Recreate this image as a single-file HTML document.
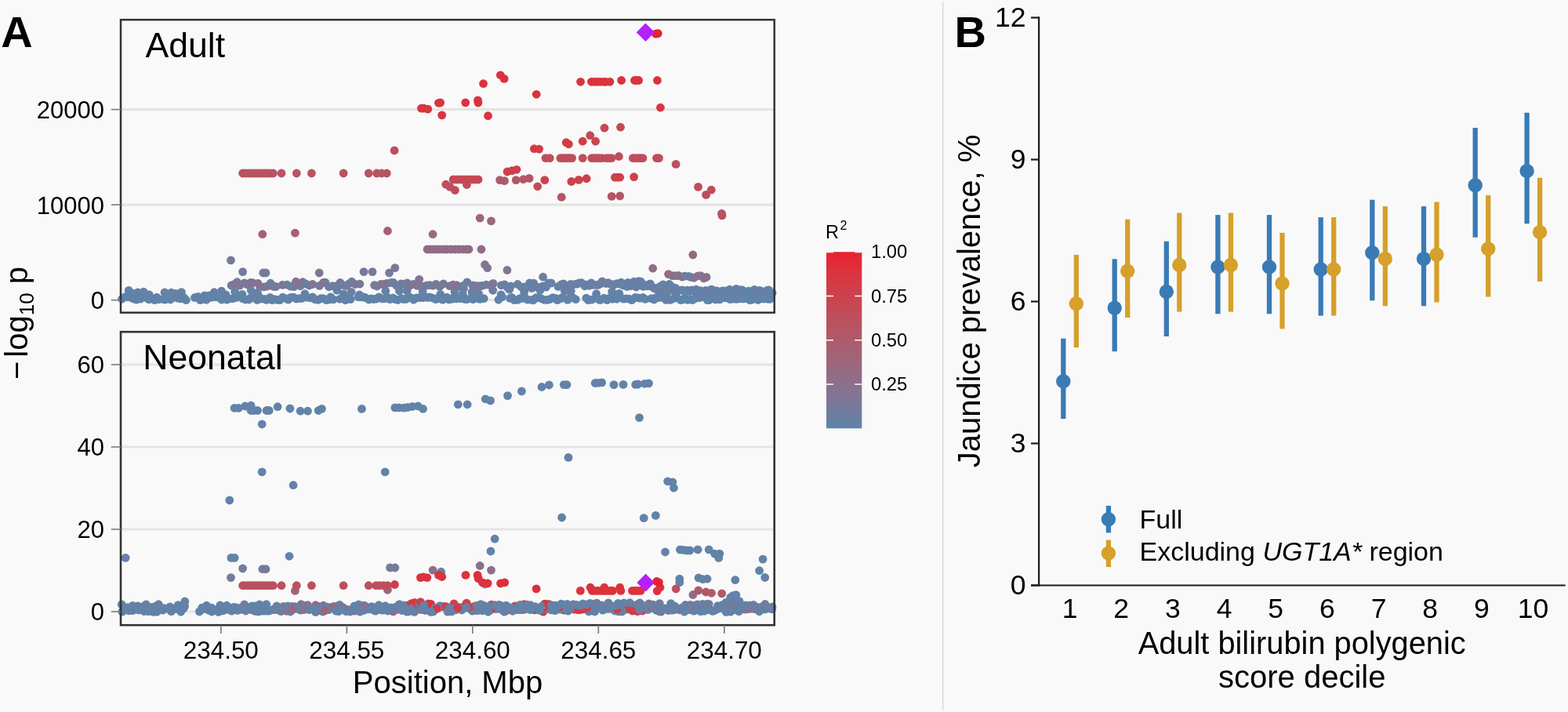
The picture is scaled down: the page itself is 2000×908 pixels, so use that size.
<!DOCTYPE html>
<html><head><meta charset="utf-8"><title>Figure</title>
<style>html,body{margin:0;padding:0;background:#f9f9f9;}svg{display:block;}</style>
</head><body>
<svg width="2000" height="908" viewBox="0 0 2000 908" font-family='"Liberation Sans", Arial, sans-serif'>
<rect x="0" y="0" width="2000" height="908" fill="#f9f9f9"/>
<line x1="154.0" y1="382.70" x2="987.7" y2="382.70" stroke="#e4e5e4" stroke-width="3.2"/>
<line x1="154.0" y1="261.15" x2="987.7" y2="261.15" stroke="#e4e5e4" stroke-width="3.2"/>
<line x1="154.0" y1="139.60" x2="987.7" y2="139.60" stroke="#e4e5e4" stroke-width="3.2"/>
<line x1="154.0" y1="780.00" x2="987.7" y2="780.00" stroke="#e4e5e4" stroke-width="3.2"/>
<line x1="154.0" y1="675.00" x2="987.7" y2="675.00" stroke="#e4e5e4" stroke-width="3.2"/>
<line x1="154.0" y1="570.00" x2="987.7" y2="570.00" stroke="#e4e5e4" stroke-width="3.2"/>
<line x1="154.0" y1="465.00" x2="987.7" y2="465.00" stroke="#e4e5e4" stroke-width="3.2"/>
<circle cx="888.3" cy="380.0" r="5.4" fill="#6084aa"/>
<circle cx="309.3" cy="380.8" r="5.4" fill="#6382a8"/>
<circle cx="798.6" cy="380.8" r="5.4" fill="#6283a9"/>
<circle cx="710.8" cy="382.7" r="5.4" fill="#6084aa"/>
<circle cx="717.3" cy="379.4" r="5.4" fill="#6482a8"/>
<circle cx="783.7" cy="378.7" r="5.4" fill="#6382a8"/>
<circle cx="292.2" cy="380.8" r="5.4" fill="#5f84aa"/>
<circle cx="261.0" cy="376.8" r="5.4" fill="#6083aa"/>
<circle cx="353.5" cy="382.4" r="5.4" fill="#6382a8"/>
<circle cx="166.0" cy="379.0" r="5.4" fill="#5f84aa"/>
<circle cx="183.3" cy="378.8" r="5.4" fill="#5f84aa"/>
<circle cx="275.4" cy="378.6" r="5.4" fill="#6482a8"/>
<circle cx="541.6" cy="378.5" r="5.4" fill="#6083aa"/>
<circle cx="688.9" cy="370.1" r="5.4" fill="#5e84ab"/>
<circle cx="880.8" cy="381.8" r="5.4" fill="#5e84ab"/>
<circle cx="333.2" cy="381.2" r="5.4" fill="#6482a8"/>
<circle cx="959.1" cy="382.1" r="5.4" fill="#6482a7"/>
<circle cx="421.8" cy="378.8" r="5.4" fill="#5f84aa"/>
<circle cx="309.0" cy="375.4" r="5.4" fill="#5f84ab"/>
<circle cx="961.7" cy="379.0" r="5.4" fill="#5f84aa"/>
<circle cx="401.7" cy="381.8" r="5.4" fill="#6283a9"/>
<circle cx="650.6" cy="380.4" r="5.4" fill="#6084aa"/>
<circle cx="982.0" cy="381.4" r="5.4" fill="#5f84aa"/>
<circle cx="374.1" cy="379.1" r="5.4" fill="#6482a7"/>
<circle cx="850.4" cy="373.8" r="5.4" fill="#6781a6"/>
<circle cx="300.7" cy="379.6" r="5.4" fill="#6083aa"/>
<circle cx="317.5" cy="382.0" r="5.4" fill="#6382a8"/>
<circle cx="603.2" cy="381.8" r="5.4" fill="#6283a9"/>
<circle cx="754.8" cy="382.2" r="5.4" fill="#5f84aa"/>
<circle cx="273.2" cy="372.7" r="5.4" fill="#6880a5"/>
<circle cx="458.5" cy="376.0" r="5.4" fill="#6681a6"/>
<circle cx="440.6" cy="382.8" r="5.4" fill="#6382a8"/>
<circle cx="320.2" cy="370.2" r="5.4" fill="#6781a6"/>
<circle cx="443.5" cy="380.7" r="5.4" fill="#6083aa"/>
<circle cx="299.6" cy="372.3" r="5.4" fill="#5f84aa"/>
<circle cx="470.4" cy="382.0" r="5.4" fill="#6084aa"/>
<circle cx="223.3" cy="378.8" r="5.4" fill="#6382a8"/>
<circle cx="680.3" cy="382.8" r="5.4" fill="#6283a9"/>
<circle cx="595.5" cy="381.6" r="5.4" fill="#5f84aa"/>
<circle cx="970.1" cy="379.6" r="5.4" fill="#6382a8"/>
<circle cx="155.6" cy="381.3" r="5.4" fill="#5f84ab"/>
<circle cx="248.4" cy="379.5" r="5.4" fill="#6183a9"/>
<circle cx="419.3" cy="382.1" r="5.4" fill="#5f84aa"/>
<circle cx="924.3" cy="379.9" r="5.4" fill="#6582a7"/>
<circle cx="483.4" cy="378.8" r="5.4" fill="#6482a8"/>
<circle cx="600.3" cy="380.6" r="5.4" fill="#6083aa"/>
<circle cx="973.7" cy="381.1" r="5.4" fill="#6283a9"/>
<circle cx="519.1" cy="370.9" r="5.4" fill="#6382a8"/>
<circle cx="479.9" cy="381.2" r="5.4" fill="#6382a8"/>
<circle cx="750.5" cy="382.7" r="5.4" fill="#5f84ab"/>
<circle cx="512.0" cy="380.6" r="5.4" fill="#6382a8"/>
<circle cx="789.8" cy="374.4" r="5.4" fill="#6183a9"/>
<circle cx="610.5" cy="380.9" r="5.4" fill="#5e84ab"/>
<circle cx="504.1" cy="381.7" r="5.4" fill="#6283a9"/>
<circle cx="683.7" cy="379.7" r="5.4" fill="#5e84ab"/>
<circle cx="220.4" cy="378.6" r="5.4" fill="#6183a9"/>
<circle cx="813.9" cy="379.8" r="5.4" fill="#5e84ab"/>
<circle cx="840.2" cy="370.9" r="5.4" fill="#6083aa"/>
<circle cx="263.4" cy="382.3" r="5.4" fill="#6382a8"/>
<circle cx="234.8" cy="379.7" r="5.4" fill="#6183a9"/>
<circle cx="218.6" cy="373.2" r="5.4" fill="#6084aa"/>
<circle cx="539.5" cy="379.6" r="5.4" fill="#6482a7"/>
<circle cx="524.1" cy="379.6" r="5.4" fill="#5f84aa"/>
<circle cx="921.2" cy="379.6" r="5.4" fill="#5f84ab"/>
<circle cx="929.4" cy="379.6" r="5.4" fill="#5f84ab"/>
<circle cx="593.3" cy="381.7" r="5.4" fill="#6084aa"/>
<circle cx="412.3" cy="380.6" r="5.4" fill="#6482a7"/>
<circle cx="863.3" cy="379.7" r="5.4" fill="#6083aa"/>
<circle cx="830.6" cy="380.7" r="5.4" fill="#5f84aa"/>
<circle cx="820.1" cy="379.5" r="5.4" fill="#5e84ab"/>
<circle cx="764.3" cy="382.3" r="5.4" fill="#5e84ab"/>
<circle cx="347.1" cy="382.7" r="5.4" fill="#6183a9"/>
<circle cx="686.6" cy="379.7" r="5.4" fill="#6482a7"/>
<circle cx="210.6" cy="382.1" r="5.4" fill="#6482a7"/>
<circle cx="942.9" cy="380.9" r="5.4" fill="#6083aa"/>
<circle cx="816.4" cy="380.3" r="5.4" fill="#6084aa"/>
<circle cx="360.7" cy="379.1" r="5.4" fill="#5e84ab"/>
<circle cx="561.7" cy="375.4" r="5.4" fill="#6084aa"/>
<circle cx="405.7" cy="382.4" r="5.4" fill="#6183a9"/>
<circle cx="433.3" cy="381.3" r="5.4" fill="#5f84aa"/>
<circle cx="370.7" cy="379.5" r="5.4" fill="#6283a9"/>
<circle cx="189.9" cy="381.9" r="5.4" fill="#6282a8"/>
<circle cx="545.3" cy="379.4" r="5.4" fill="#6283a9"/>
<circle cx="395.9" cy="379.9" r="5.4" fill="#6283a9"/>
<circle cx="438.2" cy="379.4" r="5.4" fill="#6482a7"/>
<circle cx="939.3" cy="381.4" r="5.4" fill="#5f84ab"/>
<circle cx="517.9" cy="381.5" r="5.4" fill="#6283a9"/>
<circle cx="226.7" cy="380.2" r="5.4" fill="#6482a8"/>
<circle cx="846.4" cy="379.1" r="5.4" fill="#5e84ab"/>
<circle cx="319.7" cy="380.0" r="5.4" fill="#5e84ab"/>
<circle cx="296.7" cy="380.8" r="5.4" fill="#6482a7"/>
<circle cx="202.7" cy="381.8" r="5.4" fill="#6283a9"/>
<circle cx="286.3" cy="378.9" r="5.4" fill="#5f84ab"/>
<circle cx="190.4" cy="376.0" r="5.4" fill="#6880a5"/>
<circle cx="590.2" cy="375.3" r="5.4" fill="#5f84aa"/>
<circle cx="356.9" cy="382.7" r="5.4" fill="#6283a8"/>
<circle cx="159.5" cy="378.7" r="5.4" fill="#6283a9"/>
<circle cx="918.0" cy="381.9" r="5.4" fill="#5f84ab"/>
<circle cx="266.5" cy="376.8" r="5.4" fill="#6382a8"/>
<circle cx="272.5" cy="378.5" r="5.4" fill="#5f84aa"/>
<circle cx="197.3" cy="382.7" r="5.4" fill="#5f84ab"/>
<circle cx="770.4" cy="380.2" r="5.4" fill="#6482a7"/>
<circle cx="576.2" cy="381.4" r="5.4" fill="#6282a8"/>
<circle cx="582.0" cy="380.9" r="5.4" fill="#6283a9"/>
<circle cx="860.9" cy="380.1" r="5.4" fill="#6083aa"/>
<circle cx="457.1" cy="378.6" r="5.4" fill="#6083aa"/>
<circle cx="555.8" cy="381.7" r="5.4" fill="#6283a8"/>
<circle cx="564.9" cy="382.3" r="5.4" fill="#6283a9"/>
<circle cx="609.1" cy="373.5" r="5.4" fill="#6283a9"/>
<circle cx="979.1" cy="381.3" r="5.4" fill="#5f84aa"/>
<circle cx="948.3" cy="381.0" r="5.4" fill="#6083aa"/>
<circle cx="904.3" cy="382.6" r="5.4" fill="#6482a7"/>
<circle cx="183.2" cy="372.2" r="5.4" fill="#6482a7"/>
<circle cx="781.3" cy="381.3" r="5.4" fill="#6382a8"/>
<circle cx="795.3" cy="381.2" r="5.4" fill="#6282a8"/>
<circle cx="578.9" cy="379.1" r="5.4" fill="#6083aa"/>
<circle cx="429.8" cy="370.2" r="5.4" fill="#6581a7"/>
<circle cx="822.9" cy="381.4" r="5.4" fill="#5f84aa"/>
<circle cx="843.9" cy="379.1" r="5.4" fill="#6183a9"/>
<circle cx="460.6" cy="378.8" r="5.4" fill="#6582a7"/>
<circle cx="805.8" cy="382.6" r="5.4" fill="#6283a9"/>
<circle cx="870.5" cy="382.0" r="5.4" fill="#6183a9"/>
<circle cx="908.0" cy="380.3" r="5.4" fill="#6183a9"/>
<circle cx="339.8" cy="382.4" r="5.4" fill="#6382a8"/>
<circle cx="606.9" cy="379.1" r="5.4" fill="#6084aa"/>
<circle cx="350.6" cy="381.6" r="5.4" fill="#5f84aa"/>
<circle cx="897.6" cy="378.5" r="5.4" fill="#6382a8"/>
<circle cx="966.9" cy="382.5" r="5.4" fill="#6083aa"/>
<circle cx="975.6" cy="379.1" r="5.4" fill="#5f84aa"/>
<circle cx="640.4" cy="378.6" r="5.4" fill="#6183a9"/>
<circle cx="344.5" cy="379.3" r="5.4" fill="#6382a8"/>
<circle cx="559.4" cy="380.2" r="5.4" fill="#6083aa"/>
<circle cx="701.4" cy="381.6" r="5.4" fill="#6183a9"/>
<circle cx="213.7" cy="378.8" r="5.4" fill="#6282a8"/>
<circle cx="331.3" cy="379.4" r="5.4" fill="#5f84aa"/>
<circle cx="224.1" cy="374.5" r="5.4" fill="#6880a5"/>
<circle cx="501.2" cy="380.0" r="5.4" fill="#5e84ab"/>
<circle cx="668.6" cy="372.6" r="5.4" fill="#6382a8"/>
<circle cx="551.3" cy="379.8" r="5.4" fill="#5f84aa"/>
<circle cx="384.8" cy="380.4" r="5.4" fill="#5f84aa"/>
<circle cx="490.5" cy="380.8" r="5.4" fill="#5f84aa"/>
<circle cx="802.6" cy="381.1" r="5.4" fill="#5e84ab"/>
<circle cx="580.1" cy="372.2" r="5.4" fill="#6781a5"/>
<circle cx="720.3" cy="371.2" r="5.4" fill="#6581a7"/>
<circle cx="747.8" cy="380.1" r="5.4" fill="#6083aa"/>
<circle cx="693.9" cy="382.3" r="5.4" fill="#6382a8"/>
<circle cx="765.9" cy="382.4" r="5.4" fill="#6183a9"/>
<circle cx="388.9" cy="374.7" r="5.4" fill="#6382a8"/>
<circle cx="697.9" cy="382.5" r="5.4" fill="#6283a9"/>
<circle cx="563.4" cy="381.6" r="5.4" fill="#6283a9"/>
<circle cx="473.3" cy="381.0" r="5.4" fill="#6282a8"/>
<circle cx="892.1" cy="379.6" r="5.4" fill="#6282a8"/>
<circle cx="531.4" cy="379.8" r="5.4" fill="#6183a9"/>
<circle cx="476.6" cy="381.5" r="5.4" fill="#6183a9"/>
<circle cx="497.4" cy="381.8" r="5.4" fill="#6084aa"/>
<circle cx="200.0" cy="379.2" r="5.4" fill="#6183a9"/>
<circle cx="786.7" cy="381.3" r="5.4" fill="#6084aa"/>
<circle cx="187.0" cy="379.9" r="5.4" fill="#6283a9"/>
<circle cx="663.1" cy="380.6" r="5.4" fill="#5e84ab"/>
<circle cx="734.3" cy="381.7" r="5.4" fill="#6183a9"/>
<circle cx="727.3" cy="379.3" r="5.4" fill="#5f84ab"/>
<circle cx="547.8" cy="378.9" r="5.4" fill="#6183a9"/>
<circle cx="521.4" cy="378.7" r="5.4" fill="#5f84aa"/>
<circle cx="774.3" cy="382.7" r="5.4" fill="#6084aa"/>
<circle cx="915.6" cy="381.1" r="5.4" fill="#6083aa"/>
<circle cx="448.2" cy="372.3" r="5.4" fill="#6880a5"/>
<circle cx="527.6" cy="382.2" r="5.4" fill="#6283a8"/>
<circle cx="902.2" cy="382.6" r="5.4" fill="#5e84ab"/>
<circle cx="704.9" cy="379.7" r="5.4" fill="#5e84ab"/>
<circle cx="289.5" cy="382.1" r="5.4" fill="#5f84aa"/>
<circle cx="810.4" cy="379.5" r="5.4" fill="#6084aa"/>
<circle cx="367.7" cy="382.1" r="5.4" fill="#5f84aa"/>
<circle cx="724.0" cy="382.4" r="5.4" fill="#6582a7"/>
<circle cx="678.1" cy="382.4" r="5.4" fill="#6084aa"/>
<circle cx="282.7" cy="382.2" r="5.4" fill="#6582a7"/>
<circle cx="534.5" cy="379.6" r="5.4" fill="#6482a7"/>
<circle cx="834.3" cy="382.0" r="5.4" fill="#5f84aa"/>
<circle cx="856.6" cy="381.7" r="5.4" fill="#5e84ab"/>
<circle cx="259.2" cy="381.4" r="5.4" fill="#5e84ab"/>
<circle cx="416.2" cy="382.6" r="5.4" fill="#6084aa"/>
<circle cx="635.9" cy="382.3" r="5.4" fill="#5f84aa"/>
<circle cx="714.9" cy="380.9" r="5.4" fill="#6183a9"/>
<circle cx="210.0" cy="373.0" r="5.4" fill="#6781a6"/>
<circle cx="590.2" cy="380.7" r="5.4" fill="#6283a9"/>
<circle cx="268.5" cy="379.4" r="5.4" fill="#5f84aa"/>
<circle cx="409.2" cy="380.7" r="5.4" fill="#6282a8"/>
<circle cx="192.9" cy="380.8" r="5.4" fill="#6482a8"/>
<circle cx="322.7" cy="379.6" r="5.4" fill="#6282a8"/>
<circle cx="854.3" cy="382.5" r="5.4" fill="#6083aa"/>
<circle cx="438.3" cy="374.7" r="5.4" fill="#6382a8"/>
<circle cx="487.5" cy="380.9" r="5.4" fill="#6482a7"/>
<circle cx="952.2" cy="380.7" r="5.4" fill="#5f84aa"/>
<circle cx="569.7" cy="379.1" r="5.4" fill="#6283a9"/>
<circle cx="840.2" cy="379.5" r="5.4" fill="#6183a9"/>
<circle cx="377.7" cy="381.0" r="5.4" fill="#6482a8"/>
<circle cx="628.7" cy="370.3" r="5.4" fill="#6781a6"/>
<circle cx="586.5" cy="380.6" r="5.4" fill="#5e84ab"/>
<circle cx="287.9" cy="375.9" r="5.4" fill="#6781a6"/>
<circle cx="776.2" cy="380.7" r="5.4" fill="#6282a8"/>
<circle cx="730.5" cy="379.5" r="5.4" fill="#6084aa"/>
<circle cx="934.9" cy="381.2" r="5.4" fill="#6282a8"/>
<circle cx="398.9" cy="379.0" r="5.4" fill="#6283a9"/>
<circle cx="337.9" cy="381.3" r="5.4" fill="#6382a8"/>
<circle cx="873.3" cy="380.1" r="5.4" fill="#6482a7"/>
<circle cx="836.2" cy="379.8" r="5.4" fill="#6482a7"/>
<circle cx="237.3" cy="382.6" r="5.4" fill="#5f84aa"/>
<circle cx="169.9" cy="381.0" r="5.4" fill="#6183a9"/>
<circle cx="179.2" cy="381.2" r="5.4" fill="#6083aa"/>
<circle cx="690.3" cy="380.7" r="5.4" fill="#5f84aa"/>
<circle cx="391.0" cy="379.2" r="5.4" fill="#6183a9"/>
<circle cx="447.0" cy="381.6" r="5.4" fill="#5e84ab"/>
<circle cx="252.6" cy="378.5" r="5.4" fill="#6183a9"/>
<circle cx="313.1" cy="382.0" r="5.4" fill="#6582a7"/>
<circle cx="327.9" cy="382.5" r="5.4" fill="#6582a7"/>
<circle cx="759.5" cy="380.2" r="5.4" fill="#6183a9"/>
<circle cx="365.3" cy="380.8" r="5.4" fill="#6482a7"/>
<circle cx="230.0" cy="380.9" r="5.4" fill="#6482a8"/>
<circle cx="491.8" cy="371.0" r="5.4" fill="#6681a6"/>
<circle cx="174.0" cy="382.2" r="5.4" fill="#6084aa"/>
<circle cx="279.8" cy="379.6" r="5.4" fill="#6083aa"/>
<circle cx="672.8" cy="382.1" r="5.4" fill="#5f84ab"/>
<circle cx="931.2" cy="381.6" r="5.4" fill="#6183a9"/>
<circle cx="666.0" cy="380.4" r="5.4" fill="#6084aa"/>
<circle cx="175.7" cy="379.8" r="5.4" fill="#6382a8"/>
<circle cx="652.8" cy="379.4" r="5.4" fill="#6283a9"/>
<circle cx="602.0" cy="372.4" r="5.4" fill="#6681a6"/>
<circle cx="612.5" cy="381.4" r="5.4" fill="#6282a8"/>
<circle cx="780.6" cy="372.1" r="5.4" fill="#6581a7"/>
<circle cx="255.5" cy="382.6" r="5.4" fill="#6282a8"/>
<circle cx="175.7" cy="372.9" r="5.4" fill="#6183a9"/>
<circle cx="425.1" cy="381.9" r="5.4" fill="#6482a8"/>
<circle cx="207.8" cy="381.5" r="5.4" fill="#6283a9"/>
<circle cx="231.4" cy="372.6" r="5.4" fill="#6382a8"/>
<circle cx="883.5" cy="382.5" r="5.4" fill="#6084aa"/>
<circle cx="708.7" cy="380.5" r="5.4" fill="#6083aa"/>
<circle cx="514.6" cy="381.5" r="5.4" fill="#6582a7"/>
<circle cx="169.6" cy="374.5" r="5.4" fill="#5f84aa"/>
<circle cx="509.4" cy="371.0" r="5.4" fill="#6881a5"/>
<circle cx="912.5" cy="382.0" r="5.4" fill="#6382a8"/>
<circle cx="464.4" cy="379.0" r="5.4" fill="#6084aa"/>
<circle cx="282.5" cy="371.1" r="5.4" fill="#6681a6"/>
<circle cx="164.2" cy="370.4" r="5.4" fill="#5f84aa"/>
<circle cx="956.4" cy="382.8" r="5.4" fill="#5f84ab"/>
<circle cx="946.1" cy="379.6" r="5.4" fill="#6084aa"/>
<circle cx="381.2" cy="380.7" r="5.4" fill="#6283a9"/>
<circle cx="849.5" cy="382.4" r="5.4" fill="#6482a8"/>
<circle cx="639.0" cy="375.9" r="5.4" fill="#6482a7"/>
<circle cx="265.8" cy="378.9" r="5.4" fill="#6283a9"/>
<circle cx="760.6" cy="374.7" r="5.4" fill="#6283a8"/>
<circle cx="656.1" cy="382.6" r="5.4" fill="#5f84aa"/>
<circle cx="539.1" cy="371.9" r="5.4" fill="#5f84ab"/>
<circle cx="572.6" cy="382.0" r="5.4" fill="#6382a8"/>
<circle cx="328.5" cy="373.3" r="5.4" fill="#6581a7"/>
<circle cx="660.8" cy="382.3" r="5.4" fill="#6282a8"/>
<circle cx="493.6" cy="378.7" r="5.4" fill="#5f84aa"/>
<circle cx="161.9" cy="378.8" r="5.4" fill="#5f84ab"/>
<circle cx="877.0" cy="382.4" r="5.4" fill="#5e84ab"/>
<circle cx="466.3" cy="379.7" r="5.4" fill="#5f84aa"/>
<circle cx="217.5" cy="382.0" r="5.4" fill="#6084aa"/>
<circle cx="868.3" cy="382.6" r="5.4" fill="#5f84aa"/>
<circle cx="507.4" cy="382.5" r="5.4" fill="#5f84ab"/>
<circle cx="617.2" cy="380.7" r="5.4" fill="#6183a9"/>
<circle cx="669.7" cy="379.9" r="5.4" fill="#6382a8"/>
<circle cx="445.1" cy="361.8" r="5.4" fill="#86738f"/>
<circle cx="415.0" cy="360.2" r="5.4" fill="#6880a5"/>
<circle cx="893.8" cy="351.7" r="5.4" fill="#88718d"/>
<circle cx="906.9" cy="369.2" r="5.4" fill="#6183a9"/>
<circle cx="629.0" cy="361.4" r="5.4" fill="#7b7897"/>
<circle cx="544.7" cy="363.9" r="5.4" fill="#7e7695"/>
<circle cx="751.6" cy="364.3" r="5.4" fill="#707da0"/>
<circle cx="966.1" cy="373.4" r="5.4" fill="#6283a9"/>
<circle cx="870.1" cy="353.2" r="5.4" fill="#8c708a"/>
<circle cx="336.7" cy="365.9" r="5.4" fill="#797999"/>
<circle cx="861.8" cy="367.5" r="5.4" fill="#6b7fa3"/>
<circle cx="897.7" cy="355.0" r="5.4" fill="#7d7796"/>
<circle cx="441.9" cy="364.5" r="5.4" fill="#7e7796"/>
<circle cx="322.4" cy="360.7" r="5.4" fill="#817593"/>
<circle cx="938.6" cy="372.8" r="5.4" fill="#5f84aa"/>
<circle cx="360.3" cy="363.4" r="5.4" fill="#807594"/>
<circle cx="888.0" cy="369.2" r="5.4" fill="#6a80a3"/>
<circle cx="586.3" cy="365.7" r="5.4" fill="#707d9f"/>
<circle cx="527.4" cy="362.5" r="5.4" fill="#6e7ea1"/>
<circle cx="671.0" cy="366.7" r="5.4" fill="#6681a6"/>
<circle cx="820.5" cy="365.4" r="5.4" fill="#6880a5"/>
<circle cx="519.3" cy="360.8" r="5.4" fill="#767a9b"/>
<circle cx="394.4" cy="364.0" r="5.4" fill="#757b9c"/>
<circle cx="366.2" cy="363.1" r="5.4" fill="#757b9c"/>
<circle cx="890.2" cy="351.8" r="5.4" fill="#86738f"/>
<circle cx="311.8" cy="360.9" r="5.4" fill="#7b7897"/>
<circle cx="573.7" cy="364.6" r="5.4" fill="#87728e"/>
<circle cx="489.8" cy="362.5" r="5.4" fill="#86738f"/>
<circle cx="349.1" cy="365.4" r="5.4" fill="#6e7ea1"/>
<circle cx="879.8" cy="371.6" r="5.4" fill="#6482a7"/>
<circle cx="374.9" cy="365.6" r="5.4" fill="#6c7fa2"/>
<circle cx="768.2" cy="358.8" r="5.4" fill="#6e7ea1"/>
<circle cx="370.6" cy="365.2" r="5.4" fill="#6b7fa3"/>
<circle cx="433.9" cy="360.5" r="5.4" fill="#807594"/>
<circle cx="577.8" cy="363.2" r="5.4" fill="#7b7898"/>
<circle cx="814.9" cy="358.6" r="5.4" fill="#5e84ab"/>
<circle cx="756.4" cy="363.4" r="5.4" fill="#6c7fa3"/>
<circle cx="493.2" cy="361.5" r="5.4" fill="#807594"/>
<circle cx="792.2" cy="360.2" r="5.4" fill="#6283a9"/>
<circle cx="754.1" cy="360.9" r="5.4" fill="#5e84ab"/>
<circle cx="407.4" cy="364.4" r="5.4" fill="#747b9c"/>
<circle cx="775.6" cy="360.6" r="5.4" fill="#6582a7"/>
<circle cx="786.9" cy="361.6" r="5.4" fill="#6a80a3"/>
<circle cx="448.6" cy="359.2" r="5.4" fill="#707da0"/>
<circle cx="781.9" cy="363.0" r="5.4" fill="#5f84aa"/>
<circle cx="718.7" cy="361.9" r="5.4" fill="#717d9f"/>
<circle cx="890.7" cy="372.2" r="5.4" fill="#6880a5"/>
<circle cx="295.1" cy="364.0" r="5.4" fill="#6980a4"/>
<circle cx="703.1" cy="361.0" r="5.4" fill="#6582a7"/>
<circle cx="951.9" cy="373.7" r="5.4" fill="#6980a4"/>
<circle cx="841.7" cy="365.5" r="5.4" fill="#6e7ea1"/>
<circle cx="876.6" cy="370.2" r="5.4" fill="#6581a7"/>
<circle cx="881.2" cy="353.5" r="5.4" fill="#747b9d"/>
<circle cx="870.4" cy="370.0" r="5.4" fill="#6283a9"/>
<circle cx="560.8" cy="365.5" r="5.4" fill="#6f7da0"/>
<circle cx="720.2" cy="363.6" r="5.4" fill="#5f84ab"/>
<circle cx="836.6" cy="368.8" r="5.4" fill="#6a80a4"/>
<circle cx="822.1" cy="363.1" r="5.4" fill="#6781a5"/>
<circle cx="453.2" cy="362.5" r="5.4" fill="#767a9b"/>
<circle cx="664.7" cy="365.8" r="5.4" fill="#6980a4"/>
<circle cx="305.7" cy="364.2" r="5.4" fill="#807594"/>
<circle cx="675.5" cy="361.0" r="5.4" fill="#6183a9"/>
<circle cx="971.7" cy="371.5" r="5.4" fill="#6283a9"/>
<circle cx="901.0" cy="353.4" r="5.4" fill="#8a708b"/>
<circle cx="980.6" cy="370.0" r="5.4" fill="#6382a8"/>
<circle cx="614.9" cy="364.5" r="5.4" fill="#837491"/>
<circle cx="933.4" cy="373.9" r="5.4" fill="#5f84ab"/>
<circle cx="383.1" cy="364.8" r="5.4" fill="#7e7795"/>
<circle cx="712.0" cy="365.4" r="5.4" fill="#5e84ab"/>
<circle cx="921.9" cy="371.0" r="5.4" fill="#6482a8"/>
<circle cx="728.0" cy="362.4" r="5.4" fill="#707d9f"/>
<circle cx="908.4" cy="369.3" r="5.4" fill="#6581a7"/>
<circle cx="351.9" cy="365.5" r="5.4" fill="#747b9c"/>
<circle cx="861.6" cy="373.6" r="5.4" fill="#6282a8"/>
<circle cx="829.3" cy="361.8" r="5.4" fill="#6681a6"/>
<circle cx="811.4" cy="366.0" r="5.4" fill="#6382a8"/>
<circle cx="331.6" cy="365.4" r="5.4" fill="#7e7795"/>
<circle cx="692.7" cy="364.8" r="5.4" fill="#6581a7"/>
<circle cx="486.0" cy="362.4" r="5.4" fill="#827592"/>
<circle cx="511.7" cy="362.0" r="5.4" fill="#88718d"/>
<circle cx="386.1" cy="359.7" r="5.4" fill="#817592"/>
<circle cx="341.2" cy="365.0" r="5.4" fill="#78799a"/>
<circle cx="959.7" cy="371.4" r="5.4" fill="#6681a6"/>
<circle cx="498.8" cy="360.5" r="5.4" fill="#717d9f"/>
<circle cx="647.4" cy="366.8" r="5.4" fill="#6283a9"/>
<circle cx="804.4" cy="364.7" r="5.4" fill="#6c7ea2"/>
<circle cx="552.4" cy="364.1" r="5.4" fill="#7e7795"/>
<circle cx="729.1" cy="363.5" r="5.4" fill="#6581a7"/>
<circle cx="856.5" cy="365.3" r="5.4" fill="#6c7fa3"/>
<circle cx="539.3" cy="365.2" r="5.4" fill="#827592"/>
<circle cx="885.4" cy="354.3" r="5.4" fill="#88718d"/>
<circle cx="377.5" cy="359.2" r="5.4" fill="#857490"/>
<circle cx="926.1" cy="370.8" r="5.4" fill="#6980a4"/>
<circle cx="947.0" cy="370.0" r="5.4" fill="#5f84ab"/>
<circle cx="941.6" cy="369.6" r="5.4" fill="#6482a7"/>
<circle cx="531.8" cy="364.3" r="5.4" fill="#86728f"/>
<circle cx="590.8" cy="364.5" r="5.4" fill="#6d7ea2"/>
<circle cx="882.2" cy="370.0" r="5.4" fill="#6083aa"/>
<circle cx="849.8" cy="366.2" r="5.4" fill="#6880a5"/>
<circle cx="833.6" cy="367.1" r="5.4" fill="#6880a5"/>
<circle cx="424.4" cy="364.6" r="5.4" fill="#6f7da0"/>
<circle cx="606.6" cy="364.3" r="5.4" fill="#87728e"/>
<circle cx="328.9" cy="361.3" r="5.4" fill="#857390"/>
<circle cx="765.4" cy="362.2" r="5.4" fill="#6d7ea1"/>
<circle cx="896.0" cy="374.0" r="5.4" fill="#6980a4"/>
<circle cx="556.2" cy="362.5" r="5.4" fill="#7e7796"/>
<circle cx="501.8" cy="360.5" r="5.4" fill="#747b9d"/>
<circle cx="696.5" cy="366.2" r="5.4" fill="#6581a7"/>
<circle cx="957.9" cy="372.1" r="5.4" fill="#6482a8"/>
<circle cx="315.0" cy="362.7" r="5.4" fill="#727c9e"/>
<circle cx="505.7" cy="364.2" r="5.4" fill="#6c7fa2"/>
<circle cx="863.2" cy="373.0" r="5.4" fill="#6183a9"/>
<circle cx="522.1" cy="364.6" r="5.4" fill="#807694"/>
<circle cx="801.0" cy="360.4" r="5.4" fill="#6d7ea2"/>
<circle cx="699.5" cy="361.0" r="5.4" fill="#6582a7"/>
<circle cx="724.2" cy="366.0" r="5.4" fill="#6581a7"/>
<circle cx="799.9" cy="365.5" r="5.4" fill="#6183a9"/>
<circle cx="975.8" cy="373.9" r="5.4" fill="#5f84ab"/>
<circle cx="602.8" cy="364.0" r="5.4" fill="#757b9c"/>
<circle cx="548.3" cy="363.6" r="5.4" fill="#6c7fa2"/>
<circle cx="668.6" cy="365.8" r="5.4" fill="#6681a6"/>
<circle cx="817.3" cy="359.1" r="5.4" fill="#6581a7"/>
<circle cx="480.8" cy="365.0" r="5.4" fill="#7f7695"/>
<circle cx="741.8" cy="360.7" r="5.4" fill="#6880a4"/>
<circle cx="878.5" cy="352.3" r="5.4" fill="#6c7fa2"/>
<circle cx="865.7" cy="351.5" r="5.4" fill="#89718d"/>
<circle cx="954.8" cy="371.2" r="5.4" fill="#5f84aa"/>
<circle cx="968.8" cy="370.4" r="5.4" fill="#6880a5"/>
<circle cx="595.8" cy="359.9" r="5.4" fill="#727c9e"/>
<circle cx="345.1" cy="361.2" r="5.4" fill="#707d9f"/>
<circle cx="319.7" cy="360.5" r="5.4" fill="#857390"/>
<circle cx="302.5" cy="359.7" r="5.4" fill="#707d9f"/>
<circle cx="772.8" cy="361.5" r="5.4" fill="#6f7da0"/>
<circle cx="535.6" cy="364.4" r="5.4" fill="#777a9a"/>
<circle cx="684.6" cy="366.2" r="5.4" fill="#6681a6"/>
<circle cx="582.5" cy="363.7" r="5.4" fill="#847491"/>
<circle cx="900.0" cy="370.3" r="5.4" fill="#6880a5"/>
<circle cx="688.6" cy="366.3" r="5.4" fill="#6880a5"/>
<circle cx="390.1" cy="362.0" r="5.4" fill="#6980a4"/>
<circle cx="565.6" cy="362.0" r="5.4" fill="#797999"/>
<circle cx="733.7" cy="362.3" r="5.4" fill="#6980a4"/>
<circle cx="777.8" cy="361.9" r="5.4" fill="#6b7fa3"/>
<circle cx="458.9" cy="362.2" r="5.4" fill="#7a7898"/>
<circle cx="660.3" cy="362.5" r="5.4" fill="#6980a4"/>
<circle cx="858.7" cy="370.4" r="5.4" fill="#6980a4"/>
<circle cx="515.5" cy="362.3" r="5.4" fill="#707da0"/>
<circle cx="651.5" cy="364.8" r="5.4" fill="#6382a8"/>
<circle cx="783.2" cy="363.1" r="5.4" fill="#707d9f"/>
<circle cx="935.3" cy="373.7" r="5.4" fill="#6781a6"/>
<circle cx="962.3" cy="369.3" r="5.4" fill="#6781a5"/>
<circle cx="978.8" cy="370.1" r="5.4" fill="#6482a7"/>
<circle cx="680.6" cy="361.1" r="5.4" fill="#6980a4"/>
<circle cx="739.1" cy="360.8" r="5.4" fill="#6f7da0"/>
<circle cx="902.9" cy="372.8" r="5.4" fill="#6880a5"/>
<circle cx="873.5" cy="371.3" r="5.4" fill="#5f84aa"/>
<circle cx="853.8" cy="362.5" r="5.4" fill="#5e84ab"/>
<circle cx="745.9" cy="364.8" r="5.4" fill="#6581a7"/>
<circle cx="944.3" cy="369.7" r="5.4" fill="#6781a6"/>
<circle cx="643.5" cy="363.0" r="5.4" fill="#6382a8"/>
<circle cx="715.7" cy="363.0" r="5.4" fill="#6c7fa2"/>
<circle cx="639.3" cy="363.8" r="5.4" fill="#6980a4"/>
<circle cx="795.0" cy="364.0" r="5.4" fill="#6183a9"/>
<circle cx="790.9" cy="362.3" r="5.4" fill="#6781a6"/>
<circle cx="736.5" cy="362.0" r="5.4" fill="#6781a6"/>
<circle cx="419.5" cy="365.8" r="5.4" fill="#6980a4"/>
<circle cx="912.7" cy="373.7" r="5.4" fill="#6980a4"/>
<circle cx="923.3" cy="374.0" r="5.4" fill="#6183a9"/>
<circle cx="625.1" cy="363.7" r="5.4" fill="#847491"/>
<circle cx="763.3" cy="363.3" r="5.4" fill="#6c7fa2"/>
<circle cx="477.6" cy="363.7" r="5.4" fill="#757b9c"/>
<circle cx="885.4" cy="371.8" r="5.4" fill="#6382a8"/>
<circle cx="747.6" cy="363.2" r="5.4" fill="#6b7fa3"/>
<circle cx="826.4" cy="364.9" r="5.4" fill="#6681a6"/>
<circle cx="428.6" cy="364.8" r="5.4" fill="#727c9e"/>
<circle cx="893.3" cy="370.7" r="5.4" fill="#6581a7"/>
<circle cx="867.5" cy="370.2" r="5.4" fill="#6681a6"/>
<circle cx="985.0" cy="373.6" r="5.4" fill="#5f84aa"/>
<circle cx="299.2" cy="362.3" r="5.4" fill="#817593"/>
<circle cx="412.3" cy="360.5" r="5.4" fill="#857390"/>
<circle cx="760.6" cy="363.4" r="5.4" fill="#6b7fa3"/>
<circle cx="437.0" cy="363.5" r="5.4" fill="#6c7fa3"/>
<circle cx="857.6" cy="351.7" r="5.4" fill="#857390"/>
<circle cx="873.4" cy="352.1" r="5.4" fill="#707d9f"/>
<circle cx="861.6" cy="351.6" r="5.4" fill="#88718d"/>
<circle cx="930.8" cy="369.2" r="5.4" fill="#6880a5"/>
<circle cx="611.5" cy="364.7" r="5.4" fill="#767a9b"/>
<circle cx="808.7" cy="359.2" r="5.4" fill="#6b7fa3"/>
<circle cx="398.8" cy="362.5" r="5.4" fill="#857490"/>
<circle cx="845.7" cy="362.8" r="5.4" fill="#6581a7"/>
<circle cx="620.1" cy="363.2" r="5.4" fill="#707d9f"/>
<circle cx="914.1" cy="371.0" r="5.4" fill="#5f84aa"/>
<circle cx="918.9" cy="371.8" r="5.4" fill="#6681a6"/>
<circle cx="610.6" cy="374.6" r="5.4" fill="#6582a7"/>
<circle cx="591.4" cy="368.0" r="5.4" fill="#6880a5"/>
<circle cx="649.7" cy="369.1" r="5.4" fill="#6880a5"/>
<circle cx="678.3" cy="367.5" r="5.4" fill="#6880a5"/>
<circle cx="836.0" cy="367.4" r="5.4" fill="#6880a5"/>
<circle cx="848.1" cy="368.5" r="5.4" fill="#6880a5"/>
<circle cx="938.9" cy="368.5" r="5.4" fill="#6880a5"/>
<circle cx="692.6" cy="353.2" r="5.4" fill="#6e7ea1"/>
<circle cx="728.3" cy="371.3" r="5.4" fill="#6e7ea1"/>
<circle cx="294.5" cy="331.9" r="5.4" fill="#757b9c"/>
<circle cx="309.6" cy="346.6" r="5.4" fill="#757b9c"/>
<circle cx="335.8" cy="348.0" r="5.4" fill="#757b9c"/>
<circle cx="339.0" cy="348.0" r="5.4" fill="#757b9c"/>
<circle cx="464.0" cy="346.6" r="5.4" fill="#797999"/>
<circle cx="475.0" cy="346.6" r="5.4" fill="#797999"/>
<circle cx="496.5" cy="348.0" r="5.4" fill="#797999"/>
<circle cx="503.8" cy="341.6" r="5.4" fill="#797999"/>
<circle cx="407.2" cy="348.0" r="5.4" fill="#7c7897"/>
<circle cx="534.7" cy="356.3" r="5.4" fill="#837492"/>
<circle cx="618.5" cy="337.5" r="5.4" fill="#837492"/>
<circle cx="621.7" cy="341.7" r="5.4" fill="#837492"/>
<circle cx="646.9" cy="344.5" r="5.4" fill="#837492"/>
<circle cx="832.7" cy="342.2" r="5.4" fill="#926c85"/>
<circle cx="545.0" cy="318.0" r="5.4" fill="#926c85"/>
<circle cx="549.0" cy="318.0" r="5.4" fill="#926c85"/>
<circle cx="553.0" cy="318.0" r="5.4" fill="#926c85"/>
<circle cx="557.0" cy="318.0" r="5.4" fill="#926c85"/>
<circle cx="561.0" cy="318.0" r="5.4" fill="#926c85"/>
<circle cx="566.0" cy="318.0" r="5.4" fill="#926c85"/>
<circle cx="570.0" cy="318.0" r="5.4" fill="#926c85"/>
<circle cx="575.0" cy="318.0" r="5.4" fill="#926c85"/>
<circle cx="580.0" cy="318.0" r="5.4" fill="#926c85"/>
<circle cx="585.0" cy="318.0" r="5.4" fill="#926c85"/>
<circle cx="590.0" cy="318.0" r="5.4" fill="#926c85"/>
<circle cx="595.0" cy="318.0" r="5.4" fill="#926c85"/>
<circle cx="598.0" cy="318.0" r="5.4" fill="#926c85"/>
<circle cx="613.9" cy="318.0" r="5.4" fill="#926c85"/>
<circle cx="852.6" cy="349.6" r="5.4" fill="#956b83"/>
<circle cx="883.8" cy="325.0" r="5.4" fill="#956b83"/>
<circle cx="552.1" cy="298.7" r="5.4" fill="#956b83"/>
<circle cx="612.2" cy="278.1" r="5.4" fill="#9d657b"/>
<circle cx="626.5" cy="281.9" r="5.4" fill="#9d657b"/>
<circle cx="334.8" cy="298.7" r="5.4" fill="#a75f73"/>
<circle cx="376.4" cy="297.2" r="5.4" fill="#a75f73"/>
<circle cx="494.4" cy="294.5" r="5.4" fill="#a75f73"/>
<circle cx="637.6" cy="229.6" r="5.4" fill="#ad5b6c"/>
<circle cx="643.5" cy="230.6" r="5.4" fill="#ad5b6c"/>
<circle cx="658.2" cy="229.6" r="5.4" fill="#b35666"/>
<circle cx="667.5" cy="228.7" r="5.4" fill="#b35666"/>
<circle cx="675.0" cy="227.4" r="5.4" fill="#b35666"/>
<circle cx="716.2" cy="251.4" r="5.4" fill="#b55565"/>
<circle cx="780.2" cy="250.4" r="5.4" fill="#b55565"/>
<circle cx="790.7" cy="250.0" r="5.4" fill="#b55565"/>
<circle cx="309.6" cy="221.0" r="5.4" fill="#b75363"/>
<circle cx="313.0" cy="221.0" r="5.4" fill="#b75363"/>
<circle cx="316.5" cy="221.0" r="5.4" fill="#b75363"/>
<circle cx="320.0" cy="221.0" r="5.4" fill="#b75363"/>
<circle cx="323.5" cy="221.0" r="5.4" fill="#b75363"/>
<circle cx="327.0" cy="221.0" r="5.4" fill="#b75363"/>
<circle cx="330.5" cy="221.0" r="5.4" fill="#b75363"/>
<circle cx="334.0" cy="221.0" r="5.4" fill="#b75363"/>
<circle cx="337.5" cy="221.0" r="5.4" fill="#b75363"/>
<circle cx="341.0" cy="221.0" r="5.4" fill="#b75363"/>
<circle cx="344.5" cy="221.0" r="5.4" fill="#b75363"/>
<circle cx="348.4" cy="221.0" r="5.4" fill="#b75363"/>
<circle cx="359.0" cy="221.0" r="5.4" fill="#b75363"/>
<circle cx="378.3" cy="221.0" r="5.4" fill="#b75363"/>
<circle cx="397.4" cy="221.0" r="5.4" fill="#b75363"/>
<circle cx="438.1" cy="221.0" r="5.4" fill="#b75363"/>
<circle cx="470.2" cy="221.0" r="5.4" fill="#b75363"/>
<circle cx="480.6" cy="221.0" r="5.4" fill="#b75363"/>
<circle cx="486.8" cy="221.0" r="5.4" fill="#b75363"/>
<circle cx="493.3" cy="221.0" r="5.4" fill="#b75363"/>
<circle cx="920.5" cy="272.3" r="5.4" fill="#b75363"/>
<circle cx="921.0" cy="274.9" r="5.4" fill="#b75363"/>
<circle cx="503.1" cy="191.9" r="5.4" fill="#bc505e"/>
<circle cx="568.7" cy="235.2" r="5.4" fill="#bc505e"/>
<circle cx="573.9" cy="238.4" r="5.4" fill="#bc505e"/>
<circle cx="862.1" cy="209.4" r="5.4" fill="#bc505e"/>
<circle cx="595.4" cy="235.5" r="5.4" fill="#be4e5b"/>
<circle cx="696.0" cy="201.6" r="5.4" fill="#be4e5b"/>
<circle cx="701.2" cy="201.6" r="5.4" fill="#be4e5b"/>
<circle cx="714.9" cy="201.6" r="5.4" fill="#be4e5b"/>
<circle cx="718.0" cy="201.6" r="5.4" fill="#be4e5b"/>
<circle cx="721.2" cy="201.6" r="5.4" fill="#be4e5b"/>
<circle cx="724.0" cy="201.6" r="5.4" fill="#be4e5b"/>
<circle cx="726.4" cy="201.6" r="5.4" fill="#be4e5b"/>
<circle cx="729.6" cy="201.6" r="5.4" fill="#be4e5b"/>
<circle cx="743.2" cy="201.6" r="5.4" fill="#be4e5b"/>
<circle cx="754.8" cy="201.6" r="5.4" fill="#be4e5b"/>
<circle cx="758.0" cy="201.6" r="5.4" fill="#be4e5b"/>
<circle cx="761.0" cy="201.6" r="5.4" fill="#be4e5b"/>
<circle cx="764.2" cy="201.6" r="5.4" fill="#be4e5b"/>
<circle cx="768.0" cy="201.6" r="5.4" fill="#be4e5b"/>
<circle cx="773.7" cy="201.6" r="5.4" fill="#be4e5b"/>
<circle cx="777.0" cy="201.6" r="5.4" fill="#be4e5b"/>
<circle cx="780.0" cy="201.6" r="5.4" fill="#be4e5b"/>
<circle cx="807.3" cy="201.6" r="5.4" fill="#be4e5b"/>
<circle cx="811.0" cy="201.6" r="5.4" fill="#be4e5b"/>
<circle cx="814.6" cy="201.6" r="5.4" fill="#be4e5b"/>
<circle cx="817.0" cy="201.6" r="5.4" fill="#be4e5b"/>
<circle cx="819.9" cy="201.6" r="5.4" fill="#be4e5b"/>
<circle cx="837.5" cy="201.6" r="5.4" fill="#be4e5b"/>
<circle cx="840.5" cy="201.6" r="5.4" fill="#be4e5b"/>
<circle cx="789.4" cy="199.5" r="5.4" fill="#be4e5b"/>
<circle cx="580.4" cy="242.6" r="5.4" fill="#c14c59"/>
<circle cx="685.7" cy="237.8" r="5.4" fill="#c14c59"/>
<circle cx="890.5" cy="238.4" r="5.4" fill="#c14c59"/>
<circle cx="907.3" cy="242.2" r="5.4" fill="#c14c59"/>
<circle cx="900.6" cy="248.4" r="5.4" fill="#c14c59"/>
<circle cx="578.0" cy="229.0" r="5.4" fill="#c64854"/>
<circle cx="582.0" cy="229.0" r="5.4" fill="#c64854"/>
<circle cx="586.0" cy="229.0" r="5.4" fill="#c64854"/>
<circle cx="590.0" cy="229.0" r="5.4" fill="#c64854"/>
<circle cx="594.0" cy="229.0" r="5.4" fill="#c64854"/>
<circle cx="598.0" cy="229.0" r="5.4" fill="#c64854"/>
<circle cx="602.0" cy="229.0" r="5.4" fill="#c64854"/>
<circle cx="606.0" cy="229.0" r="5.4" fill="#c64854"/>
<circle cx="610.0" cy="229.0" r="5.4" fill="#c64854"/>
<circle cx="752.7" cy="172.7" r="5.4" fill="#c64854"/>
<circle cx="771.0" cy="163.2" r="5.4" fill="#c64854"/>
<circle cx="791.5" cy="162.2" r="5.4" fill="#c64854"/>
<circle cx="694.8" cy="229.6" r="5.4" fill="#cb444f"/>
<circle cx="759.6" cy="180.2" r="5.4" fill="#cb444f"/>
<circle cx="728.8" cy="231.5" r="5.4" fill="#cc414c"/>
<circle cx="738.2" cy="229.4" r="5.4" fill="#cc414c"/>
<circle cx="748.1" cy="227.7" r="5.4" fill="#cc414c"/>
<circle cx="784.4" cy="226.2" r="5.4" fill="#ce404b"/>
<circle cx="787.5" cy="226.2" r="5.4" fill="#ce404b"/>
<circle cx="790.7" cy="226.2" r="5.4" fill="#ce404b"/>
<circle cx="808.6" cy="225.6" r="5.4" fill="#ce404b"/>
<circle cx="647.0" cy="219.0" r="5.4" fill="#ce404b"/>
<circle cx="653.0" cy="217.6" r="5.4" fill="#ce404b"/>
<circle cx="659.0" cy="216.3" r="5.4" fill="#ce404b"/>
<circle cx="681.3" cy="189.7" r="5.4" fill="#d43b45"/>
<circle cx="687.6" cy="190.1" r="5.4" fill="#d43b45"/>
<circle cx="722.2" cy="181.7" r="5.4" fill="#d43b45"/>
<circle cx="725.4" cy="183.8" r="5.4" fill="#d43b45"/>
<circle cx="743.2" cy="180.2" r="5.4" fill="#d43b45"/>
<circle cx="842.4" cy="137.2" r="5.4" fill="#d63843"/>
<circle cx="537.4" cy="138.2" r="5.4" fill="#d83640"/>
<circle cx="540.6" cy="138.2" r="5.4" fill="#d83640"/>
<circle cx="545.8" cy="139.1" r="5.4" fill="#d83640"/>
<circle cx="559.4" cy="131.3" r="5.4" fill="#d83640"/>
<circle cx="561.7" cy="131.0" r="5.4" fill="#d83640"/>
<circle cx="563.7" cy="146.9" r="5.4" fill="#d83640"/>
<circle cx="622.5" cy="147.7" r="5.4" fill="#d83640"/>
<circle cx="593.7" cy="130.9" r="5.4" fill="#db333e"/>
<circle cx="609.5" cy="127.8" r="5.4" fill="#db333e"/>
<circle cx="609.9" cy="131.0" r="5.4" fill="#db333e"/>
<circle cx="684.2" cy="120.3" r="5.4" fill="#db333e"/>
<circle cx="740.5" cy="104.3" r="5.4" fill="#db333e"/>
<circle cx="754.4" cy="104.3" r="5.4" fill="#db333e"/>
<circle cx="758.0" cy="104.3" r="5.4" fill="#db333e"/>
<circle cx="761.5" cy="104.3" r="5.4" fill="#db333e"/>
<circle cx="765.3" cy="104.3" r="5.4" fill="#db333e"/>
<circle cx="769.5" cy="104.3" r="5.4" fill="#db333e"/>
<circle cx="772.6" cy="104.3" r="5.4" fill="#db333e"/>
<circle cx="777.9" cy="104.3" r="5.4" fill="#db333e"/>
<circle cx="792.6" cy="102.5" r="5.4" fill="#db333e"/>
<circle cx="809.4" cy="102.5" r="5.4" fill="#db333e"/>
<circle cx="812.0" cy="102.5" r="5.4" fill="#db333e"/>
<circle cx="814.6" cy="102.5" r="5.4" fill="#db333e"/>
<circle cx="838.4" cy="102.5" r="5.4" fill="#db333e"/>
<circle cx="616.5" cy="106.7" r="5.4" fill="#dd313b"/>
<circle cx="638.3" cy="95.8" r="5.4" fill="#dd313b"/>
<circle cx="643.1" cy="100.4" r="5.4" fill="#dd313b"/>
<circle cx="836.5" cy="43.2" r="5.4" fill="#e8212f"/>
<circle cx="839.2" cy="42.6" r="5.4" fill="#e8212f"/>
<path d="M823.4 29.6L835.1 41.3L823.4 53.0L811.7 41.3Z" fill="#b620fd"/>
<circle cx="195.8" cy="780.4" r="5.4" fill="#6283a9"/>
<circle cx="940.7" cy="770.2" r="5.4" fill="#6581a7"/>
<circle cx="194.0" cy="774.5" r="5.4" fill="#6382a8"/>
<circle cx="169.0" cy="778.6" r="5.4" fill="#6382a8"/>
<circle cx="257.7" cy="775.5" r="5.4" fill="#6980a4"/>
<circle cx="155.9" cy="780.1" r="5.4" fill="#6283a9"/>
<circle cx="230.7" cy="780.3" r="5.4" fill="#6283a9"/>
<circle cx="287.7" cy="773.2" r="5.4" fill="#6283a9"/>
<circle cx="943.0" cy="766.6" r="5.4" fill="#5e84ab"/>
<circle cx="192.9" cy="775.0" r="5.4" fill="#6084aa"/>
<circle cx="278.7" cy="780.4" r="5.4" fill="#6482a8"/>
<circle cx="225.5" cy="776.6" r="5.4" fill="#5f84ab"/>
<circle cx="170.3" cy="777.9" r="5.4" fill="#5f84ab"/>
<circle cx="282.4" cy="775.8" r="5.4" fill="#5e84ab"/>
<circle cx="930.6" cy="768.7" r="5.4" fill="#6681a6"/>
<circle cx="257.8" cy="775.2" r="5.4" fill="#6681a6"/>
<circle cx="263.5" cy="772.2" r="5.4" fill="#6084aa"/>
<circle cx="280.7" cy="772.0" r="5.4" fill="#6183a9"/>
<circle cx="936.1" cy="769.1" r="5.4" fill="#6681a6"/>
<circle cx="234.1" cy="776.0" r="5.4" fill="#5f84aa"/>
<circle cx="227.2" cy="776.3" r="5.4" fill="#6382a8"/>
<circle cx="175.6" cy="772.8" r="5.4" fill="#6880a5"/>
<circle cx="221.2" cy="776.2" r="5.4" fill="#6083aa"/>
<circle cx="264.2" cy="776.0" r="5.4" fill="#6482a7"/>
<circle cx="284.0" cy="778.9" r="5.4" fill="#6681a6"/>
<circle cx="162.3" cy="775.5" r="5.4" fill="#6183a9"/>
<circle cx="200.2" cy="780.3" r="5.4" fill="#6581a7"/>
<circle cx="203.2" cy="775.6" r="5.4" fill="#5f84ab"/>
<circle cx="181.5" cy="773.9" r="5.4" fill="#6382a8"/>
<circle cx="180.0" cy="777.5" r="5.4" fill="#6083aa"/>
<circle cx="270.2" cy="780.0" r="5.4" fill="#6084aa"/>
<circle cx="925.8" cy="768.4" r="5.4" fill="#5f84ab"/>
<circle cx="287.0" cy="777.7" r="5.4" fill="#6482a7"/>
<circle cx="216.8" cy="773.9" r="5.4" fill="#6980a4"/>
<circle cx="212.2" cy="776.2" r="5.4" fill="#6083aa"/>
<circle cx="275.4" cy="778.1" r="5.4" fill="#5f84aa"/>
<circle cx="209.4" cy="775.7" r="5.4" fill="#6382a8"/>
<circle cx="198.9" cy="772.9" r="5.4" fill="#6880a5"/>
<circle cx="164.2" cy="778.8" r="5.4" fill="#5f84ab"/>
<circle cx="162.9" cy="774.6" r="5.4" fill="#6781a6"/>
<circle cx="218.4" cy="779.7" r="5.4" fill="#6382a8"/>
<circle cx="173.4" cy="775.2" r="5.4" fill="#6283a9"/>
<circle cx="202.3" cy="770.7" r="5.4" fill="#6581a6"/>
<circle cx="928.3" cy="770.4" r="5.4" fill="#6781a5"/>
<circle cx="159.0" cy="776.0" r="5.4" fill="#6282a8"/>
<circle cx="189.5" cy="779.7" r="5.4" fill="#6283a9"/>
<circle cx="270.0" cy="775.2" r="5.4" fill="#6781a6"/>
<circle cx="207.6" cy="778.1" r="5.4" fill="#6283a9"/>
<circle cx="260.5" cy="776.4" r="5.4" fill="#6581a7"/>
<circle cx="216.9" cy="776.7" r="5.4" fill="#6581a6"/>
<circle cx="254.4" cy="779.9" r="5.4" fill="#6382a8"/>
<circle cx="272.0" cy="777.5" r="5.4" fill="#5f84ab"/>
<circle cx="184.0" cy="779.6" r="5.4" fill="#6482a7"/>
<circle cx="186.3" cy="770.9" r="5.4" fill="#6681a6"/>
<circle cx="176.9" cy="777.9" r="5.4" fill="#6382a8"/>
<circle cx="227.2" cy="771.6" r="5.4" fill="#6083aa"/>
<circle cx="155.3" cy="770.9" r="5.4" fill="#6581a7"/>
<circle cx="169.2" cy="772.4" r="5.4" fill="#6781a6"/>
<circle cx="935.0" cy="765.3" r="5.4" fill="#6681a6"/>
<circle cx="197.1" cy="779.3" r="5.4" fill="#6083aa"/>
<circle cx="235.6" cy="772.9" r="5.4" fill="#6980a4"/>
<circle cx="266.1" cy="778.1" r="5.4" fill="#6581a7"/>
<circle cx="185.6" cy="776.6" r="5.4" fill="#5f84ab"/>
<circle cx="591.9" cy="773.5" r="5.4" fill="#d13e48"/>
<circle cx="756.4" cy="775.7" r="5.4" fill="#d13e48"/>
<circle cx="392.4" cy="771.6" r="5.4" fill="#8b708b"/>
<circle cx="417.8" cy="774.9" r="5.4" fill="#956a82"/>
<circle cx="641.0" cy="778.3" r="5.4" fill="#ce404b"/>
<circle cx="443.2" cy="777.5" r="5.4" fill="#87728f"/>
<circle cx="664.9" cy="777.6" r="5.4" fill="#da343e"/>
<circle cx="791.9" cy="777.7" r="5.4" fill="#d13e48"/>
<circle cx="506.7" cy="777.3" r="5.4" fill="#9c667d"/>
<circle cx="762.4" cy="772.6" r="5.4" fill="#da353f"/>
<circle cx="743.3" cy="773.9" r="5.4" fill="#d03f49"/>
<circle cx="813.1" cy="779.6" r="5.4" fill="#da353f"/>
<circle cx="361.5" cy="773.3" r="5.4" fill="#9c667c"/>
<circle cx="739.8" cy="777.7" r="5.4" fill="#dc323c"/>
<circle cx="384.1" cy="770.7" r="5.4" fill="#87728e"/>
<circle cx="626.8" cy="771.2" r="5.4" fill="#cf3f4a"/>
<circle cx="744.5" cy="776.9" r="5.4" fill="#d53a44"/>
<circle cx="412.5" cy="772.2" r="5.4" fill="#9c667c"/>
<circle cx="503.2" cy="776.0" r="5.4" fill="#9c667c"/>
<circle cx="729.7" cy="776.1" r="5.4" fill="#ca444f"/>
<circle cx="501.5" cy="779.9" r="5.4" fill="#946b83"/>
<circle cx="595.1" cy="769.1" r="5.4" fill="#cc424d"/>
<circle cx="461.3" cy="777.9" r="5.4" fill="#a06479"/>
<circle cx="656.8" cy="772.9" r="5.4" fill="#cb434e"/>
<circle cx="613.0" cy="777.4" r="5.4" fill="#d73741"/>
<circle cx="752.9" cy="775.8" r="5.4" fill="#cd414c"/>
<circle cx="365.4" cy="779.3" r="5.4" fill="#936b84"/>
<circle cx="617.4" cy="774.0" r="5.4" fill="#c84551"/>
<circle cx="923.7" cy="776.3" r="5.4" fill="#a26277"/>
<circle cx="430.3" cy="777.1" r="5.4" fill="#8d6f89"/>
<circle cx="520.5" cy="771.8" r="5.4" fill="#dc323c"/>
<circle cx="599.9" cy="775.5" r="5.4" fill="#d03e49"/>
<circle cx="349.0" cy="777.7" r="5.4" fill="#9a677e"/>
<circle cx="528.6" cy="768.5" r="5.4" fill="#ca444f"/>
<circle cx="376.3" cy="773.6" r="5.4" fill="#936b84"/>
<circle cx="682.2" cy="777.9" r="5.4" fill="#dc323c"/>
<circle cx="668.5" cy="770.6" r="5.4" fill="#d53a44"/>
<circle cx="680.7" cy="774.8" r="5.4" fill="#c94551"/>
<circle cx="343.9" cy="778.8" r="5.4" fill="#9c667c"/>
<circle cx="692.9" cy="780.1" r="5.4" fill="#db333d"/>
<circle cx="721.3" cy="772.1" r="5.4" fill="#c94550"/>
<circle cx="379.7" cy="774.6" r="5.4" fill="#8c708a"/>
<circle cx="819.5" cy="779.0" r="5.4" fill="#cf404a"/>
<circle cx="325.8" cy="779.4" r="5.4" fill="#9b667d"/>
<circle cx="541.9" cy="778.3" r="5.4" fill="#cf3f4a"/>
<circle cx="735.1" cy="775.5" r="5.4" fill="#d23c47"/>
<circle cx="645.6" cy="778.9" r="5.4" fill="#c94550"/>
<circle cx="694.8" cy="770.1" r="5.4" fill="#dc323c"/>
<circle cx="638.9" cy="776.1" r="5.4" fill="#cb434e"/>
<circle cx="536.1" cy="777.3" r="5.4" fill="#cb434e"/>
<circle cx="579.0" cy="769.8" r="5.4" fill="#cc424d"/>
<circle cx="668.8" cy="777.3" r="5.4" fill="#cb434e"/>
<circle cx="690.2" cy="774.7" r="5.4" fill="#ca4450"/>
<circle cx="604.3" cy="778.0" r="5.4" fill="#d63943"/>
<circle cx="581.0" cy="777.9" r="5.4" fill="#6681a6"/>
<circle cx="698.3" cy="776.5" r="5.4" fill="#6283a8"/>
<circle cx="332.6" cy="779.2" r="5.4" fill="#6283a9"/>
<circle cx="316.6" cy="775.0" r="5.4" fill="#6880a5"/>
<circle cx="407.5" cy="773.6" r="5.4" fill="#6681a6"/>
<circle cx="566.0" cy="773.5" r="5.4" fill="#d23d47"/>
<circle cx="329.4" cy="779.9" r="5.4" fill="#6880a5"/>
<circle cx="531.8" cy="771.8" r="5.4" fill="#6581a7"/>
<circle cx="797.2" cy="776.3" r="5.4" fill="#6582a7"/>
<circle cx="510.9" cy="774.8" r="5.4" fill="#6482a8"/>
<circle cx="829.2" cy="775.7" r="5.4" fill="#6183a9"/>
<circle cx="520.9" cy="779.9" r="5.4" fill="#6681a6"/>
<circle cx="651.4" cy="774.9" r="5.4" fill="#6382a8"/>
<circle cx="339.7" cy="770.6" r="5.4" fill="#6482a7"/>
<circle cx="380.0" cy="775.9" r="5.4" fill="#6581a7"/>
<circle cx="922.3" cy="775.9" r="5.4" fill="#6881a5"/>
<circle cx="631.4" cy="775.2" r="5.4" fill="#6083aa"/>
<circle cx="636.6" cy="771.4" r="5.4" fill="#6084aa"/>
<circle cx="334.8" cy="773.4" r="5.4" fill="#6880a5"/>
<circle cx="347.6" cy="777.5" r="5.4" fill="#6880a5"/>
<circle cx="816.8" cy="776.3" r="5.4" fill="#6283a9"/>
<circle cx="569.2" cy="773.6" r="5.4" fill="#6283a9"/>
<circle cx="534.3" cy="773.0" r="5.4" fill="#d63843"/>
<circle cx="475.4" cy="777.5" r="5.4" fill="#6880a5"/>
<circle cx="632.6" cy="776.4" r="5.4" fill="#ce404b"/>
<circle cx="798.7" cy="777.2" r="5.4" fill="#6382a8"/>
<circle cx="449.2" cy="776.9" r="5.4" fill="#6881a5"/>
<circle cx="408.9" cy="778.6" r="5.4" fill="#5e84ab"/>
<circle cx="682.7" cy="773.6" r="5.4" fill="#6581a6"/>
<circle cx="396.8" cy="775.9" r="5.4" fill="#6681a6"/>
<circle cx="544.0" cy="778.2" r="5.4" fill="#6681a6"/>
<circle cx="483.1" cy="771.7" r="5.4" fill="#6183a9"/>
<circle cx="532.6" cy="774.9" r="5.4" fill="#6183a9"/>
<circle cx="672.1" cy="771.2" r="5.4" fill="#6881a5"/>
<circle cx="456.3" cy="776.6" r="5.4" fill="#6581a7"/>
<circle cx="378.6" cy="775.3" r="5.4" fill="#6681a6"/>
<circle cx="515.7" cy="777.0" r="5.4" fill="#6681a6"/>
<circle cx="514.9" cy="772.0" r="5.4" fill="#6980a4"/>
<circle cx="498.8" cy="774.8" r="5.4" fill="#6880a5"/>
<circle cx="602.5" cy="779.1" r="5.4" fill="#6283a8"/>
<circle cx="737.2" cy="777.6" r="5.4" fill="#dc323c"/>
<circle cx="307.6" cy="777.3" r="5.4" fill="#6581a6"/>
<circle cx="901.8" cy="777.8" r="5.4" fill="#6681a6"/>
<circle cx="625.0" cy="778.4" r="5.4" fill="#6681a6"/>
<circle cx="648.6" cy="776.2" r="5.4" fill="#d43b45"/>
<circle cx="701.1" cy="775.7" r="5.4" fill="#6681a6"/>
<circle cx="306.5" cy="775.7" r="5.4" fill="#6382a8"/>
<circle cx="751.1" cy="779.9" r="5.4" fill="#6482a8"/>
<circle cx="898.3" cy="779.3" r="5.4" fill="#5f84ab"/>
<circle cx="658.7" cy="777.6" r="5.4" fill="#6581a7"/>
<circle cx="617.7" cy="772.3" r="5.4" fill="#6880a5"/>
<circle cx="975.5" cy="777.0" r="5.4" fill="#6482a7"/>
<circle cx="810.7" cy="778.4" r="5.4" fill="#d73741"/>
<circle cx="322.0" cy="777.9" r="5.4" fill="#9f6479"/>
<circle cx="452.0" cy="779.1" r="5.4" fill="#86728f"/>
<circle cx="389.0" cy="772.3" r="5.4" fill="#6c7fa2"/>
<circle cx="643.3" cy="780.2" r="5.4" fill="#6382a8"/>
<circle cx="613.3" cy="770.6" r="5.4" fill="#6681a6"/>
<circle cx="766.7" cy="775.4" r="5.4" fill="#d9353f"/>
<circle cx="931.7" cy="780.1" r="5.4" fill="#6283a9"/>
<circle cx="663.2" cy="771.4" r="5.4" fill="#6283a9"/>
<circle cx="674.6" cy="775.0" r="5.4" fill="#6781a6"/>
<circle cx="469.9" cy="776.9" r="5.4" fill="#5f84ab"/>
<circle cx="459.2" cy="780.2" r="5.4" fill="#6581a7"/>
<circle cx="321.2" cy="773.0" r="5.4" fill="#6283a8"/>
<circle cx="962.7" cy="776.7" r="5.4" fill="#6681a6"/>
<circle cx="421.1" cy="774.6" r="5.4" fill="#6083aa"/>
<circle cx="494.5" cy="779.0" r="5.4" fill="#6283a8"/>
<circle cx="781.6" cy="777.0" r="5.4" fill="#6581a7"/>
<circle cx="627.4" cy="776.2" r="5.4" fill="#d33b46"/>
<circle cx="383.2" cy="778.2" r="5.4" fill="#5f84aa"/>
<circle cx="843.1" cy="780.1" r="5.4" fill="#976981"/>
<circle cx="552.7" cy="780.0" r="5.4" fill="#6282a8"/>
<circle cx="804.3" cy="776.9" r="5.4" fill="#6183a9"/>
<circle cx="882.1" cy="775.5" r="5.4" fill="#6581a7"/>
<circle cx="411.6" cy="780.0" r="5.4" fill="#6880a5"/>
<circle cx="297.1" cy="774.6" r="5.4" fill="#6781a6"/>
<circle cx="574.8" cy="775.5" r="5.4" fill="#6581a7"/>
<circle cx="909.0" cy="779.4" r="5.4" fill="#6084aa"/>
<circle cx="940.4" cy="778.0" r="5.4" fill="#6781a5"/>
<circle cx="662.8" cy="777.7" r="5.4" fill="#6084aa"/>
<circle cx="639.9" cy="772.7" r="5.4" fill="#5e84ab"/>
<circle cx="421.9" cy="775.7" r="5.4" fill="#6781a6"/>
<circle cx="319.0" cy="777.2" r="5.4" fill="#6581a7"/>
<circle cx="585.7" cy="774.3" r="5.4" fill="#6282a8"/>
<circle cx="872.9" cy="780.1" r="5.4" fill="#6382a8"/>
<circle cx="839.4" cy="775.1" r="5.4" fill="#6681a6"/>
<circle cx="652.4" cy="775.9" r="5.4" fill="#5e84ab"/>
<circle cx="695.0" cy="774.8" r="5.4" fill="#d63943"/>
<circle cx="953.4" cy="775.7" r="5.4" fill="#6283a9"/>
<circle cx="981.9" cy="775.7" r="5.4" fill="#a16378"/>
<circle cx="784.4" cy="779.0" r="5.4" fill="#6382a8"/>
<circle cx="947.9" cy="775.7" r="5.4" fill="#6083aa"/>
<circle cx="930.1" cy="776.0" r="5.4" fill="#6482a7"/>
<circle cx="961.6" cy="776.1" r="5.4" fill="#9e657a"/>
<circle cx="338.5" cy="774.9" r="5.4" fill="#6681a6"/>
<circle cx="895.1" cy="777.5" r="5.4" fill="#6282a8"/>
<circle cx="563.3" cy="773.6" r="5.4" fill="#dc323c"/>
<circle cx="934.5" cy="778.2" r="5.4" fill="#5f84ab"/>
<circle cx="732.6" cy="777.2" r="5.4" fill="#d23c47"/>
<circle cx="483.3" cy="777.3" r="5.4" fill="#6084aa"/>
<circle cx="893.6" cy="779.7" r="5.4" fill="#6084aa"/>
<circle cx="486.5" cy="775.2" r="5.4" fill="#916d86"/>
<circle cx="402.6" cy="780.5" r="5.4" fill="#88718d"/>
<circle cx="561.1" cy="772.6" r="5.4" fill="#6a80a4"/>
<circle cx="711.0" cy="777.2" r="5.4" fill="#d73741"/>
<circle cx="685.6" cy="776.9" r="5.4" fill="#6382a8"/>
<circle cx="806.5" cy="779.0" r="5.4" fill="#d13d48"/>
<circle cx="419.1" cy="777.6" r="5.4" fill="#6482a7"/>
<circle cx="546.4" cy="769.8" r="5.4" fill="#ca4450"/>
<circle cx="945.8" cy="776.6" r="5.4" fill="#6083aa"/>
<circle cx="477.3" cy="778.3" r="5.4" fill="#966a82"/>
<circle cx="464.0" cy="778.4" r="5.4" fill="#6581a6"/>
<circle cx="554.9" cy="777.1" r="5.4" fill="#ca444f"/>
<circle cx="866.7" cy="777.8" r="5.4" fill="#6083aa"/>
<circle cx="802.0" cy="776.3" r="5.4" fill="#d13d48"/>
<circle cx="546.8" cy="776.0" r="5.4" fill="#6681a6"/>
<circle cx="623.9" cy="773.7" r="5.4" fill="#6382a8"/>
<circle cx="777.9" cy="775.4" r="5.4" fill="#6880a5"/>
<circle cx="914.6" cy="777.0" r="5.4" fill="#6283a9"/>
<circle cx="402.6" cy="771.7" r="5.4" fill="#926c85"/>
<circle cx="311.7" cy="770.9" r="5.4" fill="#6582a7"/>
<circle cx="372.4" cy="773.4" r="5.4" fill="#8a708c"/>
<circle cx="837.0" cy="778.3" r="5.4" fill="#6083aa"/>
<circle cx="504.6" cy="774.2" r="5.4" fill="#6c7fa2"/>
<circle cx="919.7" cy="775.4" r="5.4" fill="#6382a8"/>
<circle cx="299.9" cy="774.8" r="5.4" fill="#916c86"/>
<circle cx="793.5" cy="779.9" r="5.4" fill="#6681a6"/>
<circle cx="760.7" cy="774.8" r="5.4" fill="#d63842"/>
<circle cx="386.7" cy="777.6" r="5.4" fill="#6183a9"/>
<circle cx="509.4" cy="770.6" r="5.4" fill="#6681a6"/>
<circle cx="325.0" cy="772.9" r="5.4" fill="#6083a9"/>
<circle cx="391.2" cy="775.5" r="5.4" fill="#847491"/>
<circle cx="536.4" cy="767.6" r="5.4" fill="#cf404b"/>
<circle cx="308.6" cy="775.3" r="5.4" fill="#99687f"/>
<circle cx="854.4" cy="776.3" r="5.4" fill="#6880a5"/>
<circle cx="877.9" cy="777.6" r="5.4" fill="#6382a8"/>
<circle cx="353.0" cy="772.8" r="5.4" fill="#6382a8"/>
<circle cx="719.3" cy="778.1" r="5.4" fill="#d13d47"/>
<circle cx="509.0" cy="775.2" r="5.4" fill="#6581a7"/>
<circle cx="703.1" cy="777.9" r="5.4" fill="#6581a6"/>
<circle cx="295.3" cy="779.2" r="5.4" fill="#5e84ab"/>
<circle cx="848.4" cy="775.9" r="5.4" fill="#6581a7"/>
<circle cx="575.8" cy="779.9" r="5.4" fill="#6183a9"/>
<circle cx="601.4" cy="774.2" r="5.4" fill="#6482a7"/>
<circle cx="457.6" cy="770.8" r="5.4" fill="#6283a9"/>
<circle cx="660.5" cy="775.3" r="5.4" fill="#6283a9"/>
<circle cx="461.0" cy="772.5" r="5.4" fill="#6880a5"/>
<circle cx="621.2" cy="775.5" r="5.4" fill="#6083aa"/>
<circle cx="705.7" cy="775.1" r="5.4" fill="#5f84aa"/>
<circle cx="653.9" cy="779.3" r="5.4" fill="#6581a6"/>
<circle cx="609.6" cy="778.5" r="5.4" fill="#6781a6"/>
<circle cx="432.0" cy="779.6" r="5.4" fill="#6084aa"/>
<circle cx="926.2" cy="780.5" r="5.4" fill="#6681a6"/>
<circle cx="425.4" cy="773.3" r="5.4" fill="#6482a8"/>
<circle cx="512.8" cy="778.5" r="5.4" fill="#6382a8"/>
<circle cx="358.4" cy="779.6" r="5.4" fill="#6880a5"/>
<circle cx="857.1" cy="778.3" r="5.4" fill="#5f84aa"/>
<circle cx="417.2" cy="774.1" r="5.4" fill="#6880a5"/>
<circle cx="526.7" cy="777.0" r="5.4" fill="#ce404b"/>
<circle cx="607.3" cy="778.7" r="5.4" fill="#6880a5"/>
<circle cx="446.6" cy="780.0" r="5.4" fill="#6681a6"/>
<circle cx="549.7" cy="770.3" r="5.4" fill="#dc313c"/>
<circle cx="433.2" cy="771.4" r="5.4" fill="#6581a6"/>
<circle cx="715.5" cy="777.1" r="5.4" fill="#6382a8"/>
<circle cx="302.9" cy="778.4" r="5.4" fill="#6681a6"/>
<circle cx="313.4" cy="779.0" r="5.4" fill="#6283a8"/>
<circle cx="724.6" cy="779.2" r="5.4" fill="#6581a7"/>
<circle cx="916.0" cy="774.8" r="5.4" fill="#6382a8"/>
<circle cx="950.3" cy="777.2" r="5.4" fill="#6880a5"/>
<circle cx="428.9" cy="773.2" r="5.4" fill="#6283a9"/>
<circle cx="860.4" cy="777.7" r="5.4" fill="#6482a8"/>
<circle cx="491.4" cy="772.6" r="5.4" fill="#6781a5"/>
<circle cx="840.8" cy="779.7" r="5.4" fill="#6581a6"/>
<circle cx="336.7" cy="779.1" r="5.4" fill="#6382a8"/>
<circle cx="748.5" cy="775.8" r="5.4" fill="#d33c46"/>
<circle cx="528.6" cy="780.4" r="5.4" fill="#6880a5"/>
<circle cx="645.5" cy="772.1" r="5.4" fill="#6681a6"/>
<circle cx="937.2" cy="774.9" r="5.4" fill="#6283a9"/>
<circle cx="865.2" cy="776.2" r="5.4" fill="#9f6479"/>
<circle cx="631.5" cy="771.6" r="5.4" fill="#6980a4"/>
<circle cx="713.3" cy="774.1" r="5.4" fill="#d13e48"/>
<circle cx="496.7" cy="775.4" r="5.4" fill="#5f84ab"/>
<circle cx="758.6" cy="779.9" r="5.4" fill="#6183a9"/>
<circle cx="539.9" cy="777.4" r="5.4" fill="#6083aa"/>
<circle cx="672.4" cy="776.3" r="5.4" fill="#6681a6"/>
<circle cx="368.0" cy="774.9" r="5.4" fill="#6482a8"/>
<circle cx="399.8" cy="776.4" r="5.4" fill="#6283a9"/>
<circle cx="388.2" cy="777.1" r="5.4" fill="#8e6e89"/>
<circle cx="968.4" cy="779.8" r="5.4" fill="#6283a9"/>
<circle cx="560.0" cy="775.0" r="5.4" fill="#6083aa"/>
<circle cx="870.6" cy="774.7" r="5.4" fill="#6382a8"/>
<circle cx="362.8" cy="774.7" r="5.4" fill="#6880a5"/>
<circle cx="773.4" cy="773.3" r="5.4" fill="#c94550"/>
<circle cx="707.8" cy="778.7" r="5.4" fill="#6084aa"/>
<circle cx="310.2" cy="776.6" r="5.4" fill="#6581a7"/>
<circle cx="888.6" cy="777.4" r="5.4" fill="#6083aa"/>
<circle cx="291.7" cy="774.7" r="5.4" fill="#6581a6"/>
<circle cx="335.0" cy="776.6" r="5.4" fill="#5f84aa"/>
<circle cx="489.8" cy="777.9" r="5.4" fill="#6183a9"/>
<circle cx="957.2" cy="776.1" r="5.4" fill="#6283a8"/>
<circle cx="978.3" cy="776.1" r="5.4" fill="#6681a6"/>
<circle cx="578.3" cy="776.7" r="5.4" fill="#6283a8"/>
<circle cx="493.2" cy="774.6" r="5.4" fill="#6183a9"/>
<circle cx="966.4" cy="774.6" r="5.4" fill="#6283a9"/>
<circle cx="874.4" cy="778.4" r="5.4" fill="#6283a9"/>
<circle cx="352.9" cy="777.6" r="5.4" fill="#6781a6"/>
<circle cx="861.1" cy="776.2" r="5.4" fill="#6183a9"/>
<circle cx="589.0" cy="777.9" r="5.4" fill="#6880a5"/>
<circle cx="360.2" cy="775.7" r="5.4" fill="#8b708b"/>
<circle cx="467.3" cy="774.6" r="5.4" fill="#6581a7"/>
<circle cx="355.1" cy="776.8" r="5.4" fill="#6781a6"/>
<circle cx="540.9" cy="771.9" r="5.4" fill="#6283a9"/>
<circle cx="524.8" cy="769.6" r="5.4" fill="#d63943"/>
<circle cx="890.8" cy="774.7" r="5.4" fill="#6582a7"/>
<circle cx="605.9" cy="772.9" r="5.4" fill="#ca4450"/>
<circle cx="470.8" cy="774.6" r="5.4" fill="#6681a6"/>
<circle cx="622.6" cy="780.3" r="5.4" fill="#5f84ab"/>
<circle cx="903.1" cy="776.4" r="5.4" fill="#5f84ab"/>
<circle cx="394.3" cy="777.7" r="5.4" fill="#6781a6"/>
<circle cx="485.0" cy="774.9" r="5.4" fill="#6880a5"/>
<circle cx="667.6" cy="776.1" r="5.4" fill="#6581a6"/>
<circle cx="376.6" cy="776.4" r="5.4" fill="#6083aa"/>
<circle cx="299.4" cy="774.5" r="5.4" fill="#6c7fa2"/>
<circle cx="789.1" cy="779.9" r="5.4" fill="#6482a8"/>
<circle cx="403.7" cy="778.9" r="5.4" fill="#6183a9"/>
<circle cx="845.6" cy="776.3" r="5.4" fill="#6581a6"/>
<circle cx="474.3" cy="773.6" r="5.4" fill="#6a80a4"/>
<circle cx="426.2" cy="775.1" r="5.4" fill="#976981"/>
<circle cx="826.4" cy="777.5" r="5.4" fill="#6880a5"/>
<circle cx="518.9" cy="780.2" r="5.4" fill="#6681a6"/>
<circle cx="324.4" cy="777.3" r="5.4" fill="#6581a7"/>
<circle cx="367.0" cy="772.8" r="5.4" fill="#6781a5"/>
<circle cx="615.3" cy="778.8" r="5.4" fill="#6681a6"/>
<circle cx="597.6" cy="775.3" r="5.4" fill="#cc424d"/>
<circle cx="768.9" cy="778.1" r="5.4" fill="#6681a6"/>
<circle cx="554.5" cy="775.5" r="5.4" fill="#6183a9"/>
<circle cx="884.9" cy="779.1" r="5.4" fill="#6681a6"/>
<circle cx="341.3" cy="779.2" r="5.4" fill="#5f84aa"/>
<circle cx="568.7" cy="773.8" r="5.4" fill="#cf404a"/>
<circle cx="594.8" cy="775.0" r="5.4" fill="#6681a6"/>
<circle cx="370.4" cy="780.0" r="5.4" fill="#6183a9"/>
<circle cx="451.9" cy="772.9" r="5.4" fill="#6083aa"/>
<circle cx="441.4" cy="779.7" r="5.4" fill="#6581a7"/>
<circle cx="822.7" cy="774.8" r="5.4" fill="#5e84ab"/>
<circle cx="973.3" cy="775.4" r="5.4" fill="#6582a7"/>
<circle cx="557.0" cy="776.3" r="5.4" fill="#d73741"/>
<circle cx="549.7" cy="780.4" r="5.4" fill="#6283a9"/>
<circle cx="852.2" cy="778.5" r="5.4" fill="#6781a5"/>
<circle cx="487.4" cy="778.1" r="5.4" fill="#6283a9"/>
<circle cx="905.8" cy="777.7" r="5.4" fill="#6183a9"/>
<circle cx="770.0" cy="777.3" r="5.4" fill="#5f84aa"/>
<circle cx="437.5" cy="774.6" r="5.4" fill="#956b83"/>
<circle cx="971.7" cy="774.8" r="5.4" fill="#6283a8"/>
<circle cx="815.8" cy="777.7" r="5.4" fill="#6880a5"/>
<circle cx="586.9" cy="776.2" r="5.4" fill="#5e84ab"/>
<circle cx="479.0" cy="779.1" r="5.4" fill="#5f84ab"/>
<circle cx="573.3" cy="776.3" r="5.4" fill="#6283a9"/>
<circle cx="676.6" cy="771.6" r="5.4" fill="#6781a5"/>
<circle cx="954.7" cy="776.7" r="5.4" fill="#936b84"/>
<circle cx="302.9" cy="775.1" r="5.4" fill="#6283a9"/>
<circle cx="435.5" cy="776.9" r="5.4" fill="#6083aa"/>
<circle cx="910.9" cy="778.6" r="5.4" fill="#6781a6"/>
<circle cx="524.2" cy="776.1" r="5.4" fill="#6581a7"/>
<circle cx="787.6" cy="776.8" r="5.4" fill="#d83741"/>
<circle cx="984.6" cy="776.8" r="5.4" fill="#6781a5"/>
<circle cx="373.1" cy="777.1" r="5.4" fill="#9a677e"/>
<circle cx="406.2" cy="777.0" r="5.4" fill="#6681a6"/>
<circle cx="290.7" cy="777.2" r="5.4" fill="#5f84ab"/>
<circle cx="691.5" cy="772.8" r="5.4" fill="#6880a5"/>
<circle cx="831.6" cy="774.4" r="5.4" fill="#d33b46"/>
<circle cx="775.7" cy="776.5" r="5.4" fill="#6581a7"/>
<circle cx="676.8" cy="777.7" r="5.4" fill="#6084aa"/>
<circle cx="583.9" cy="775.4" r="5.4" fill="#d63943"/>
<circle cx="453.6" cy="774.9" r="5.4" fill="#6283a9"/>
<circle cx="688.7" cy="778.4" r="5.4" fill="#5e84ab"/>
<circle cx="289.2" cy="772.2" r="5.4" fill="#6183a9"/>
<circle cx="471.4" cy="775.1" r="5.4" fill="#6183a9"/>
<circle cx="880.9" cy="777.6" r="5.4" fill="#6880a5"/>
<circle cx="464.8" cy="772.1" r="5.4" fill="#857490"/>
<circle cx="331.0" cy="771.0" r="5.4" fill="#6382a8"/>
<circle cx="635.2" cy="776.2" r="5.4" fill="#6084aa"/>
<circle cx="727.0" cy="776.5" r="5.4" fill="#6283a9"/>
<circle cx="570.9" cy="780.1" r="5.4" fill="#6880a5"/>
<circle cx="699.7" cy="770.3" r="5.4" fill="#da343e"/>
<circle cx="608.3" cy="772.5" r="5.4" fill="#6880a5"/>
<circle cx="428.7" cy="779.1" r="5.4" fill="#6283a9"/>
<circle cx="414.0" cy="779.0" r="5.4" fill="#9f6479"/>
<circle cx="833.1" cy="775.5" r="5.4" fill="#6781a5"/>
<circle cx="942.5" cy="779.6" r="5.4" fill="#6283a9"/>
<circle cx="956.3" cy="772.2" r="5.4" fill="#6482a7"/>
<circle cx="901.5" cy="770.4" r="5.4" fill="#6c7ea2"/>
<circle cx="723.7" cy="770.5" r="5.4" fill="#6382a8"/>
<circle cx="939.3" cy="770.0" r="5.4" fill="#6e7ea1"/>
<circle cx="889.5" cy="770.8" r="5.4" fill="#707d9f"/>
<circle cx="896.1" cy="770.4" r="5.4" fill="#6980a4"/>
<circle cx="711.1" cy="772.9" r="5.4" fill="#6f7da0"/>
<circle cx="961.0" cy="771.4" r="5.4" fill="#6283a8"/>
<circle cx="720.5" cy="771.1" r="5.4" fill="#6980a4"/>
<circle cx="715.8" cy="770.1" r="5.4" fill="#5e84ab"/>
<circle cx="975.9" cy="770.5" r="5.4" fill="#6f7da1"/>
<circle cx="743.5" cy="770.0" r="5.4" fill="#6d7ea2"/>
<circle cx="979.4" cy="774.6" r="5.4" fill="#5f84ab"/>
<circle cx="951.2" cy="771.8" r="5.4" fill="#6980a4"/>
<circle cx="792.4" cy="771.8" r="5.4" fill="#717d9f"/>
<circle cx="740.0" cy="772.4" r="5.4" fill="#6283a9"/>
<circle cx="832.9" cy="771.2" r="5.4" fill="#6f7da0"/>
<circle cx="915.6" cy="772.6" r="5.4" fill="#6880a5"/>
<circle cx="885.2" cy="772.5" r="5.4" fill="#6880a5"/>
<circle cx="761.0" cy="769.1" r="5.4" fill="#6e7ea1"/>
<circle cx="935.0" cy="773.0" r="5.4" fill="#717d9f"/>
<circle cx="964.1" cy="773.9" r="5.4" fill="#717c9e"/>
<circle cx="803.4" cy="768.7" r="5.4" fill="#6581a7"/>
<circle cx="764.6" cy="772.1" r="5.4" fill="#6681a6"/>
<circle cx="795.9" cy="769.0" r="5.4" fill="#6482a7"/>
<circle cx="819.2" cy="771.9" r="5.4" fill="#707d9f"/>
<circle cx="874.3" cy="771.5" r="5.4" fill="#6880a5"/>
<circle cx="816.1" cy="768.9" r="5.4" fill="#6382a8"/>
<circle cx="855.7" cy="769.6" r="5.4" fill="#6382a8"/>
<circle cx="841.3" cy="769.6" r="5.4" fill="#6d7ea1"/>
<circle cx="921.3" cy="771.6" r="5.4" fill="#5e84ab"/>
<circle cx="944.2" cy="773.9" r="5.4" fill="#6382a8"/>
<circle cx="757.0" cy="770.1" r="5.4" fill="#707d9f"/>
<circle cx="880.4" cy="771.5" r="5.4" fill="#707da0"/>
<circle cx="860.9" cy="773.1" r="5.4" fill="#6880a5"/>
<circle cx="731.3" cy="770.7" r="5.4" fill="#6e7ea1"/>
<circle cx="748.3" cy="770.9" r="5.4" fill="#6084aa"/>
<circle cx="735.7" cy="771.4" r="5.4" fill="#6482a8"/>
<circle cx="925.0" cy="772.7" r="5.4" fill="#6b7fa3"/>
<circle cx="779.3" cy="772.5" r="5.4" fill="#717d9f"/>
<circle cx="752.5" cy="769.5" r="5.4" fill="#6781a6"/>
<circle cx="904.2" cy="770.4" r="5.4" fill="#717d9f"/>
<circle cx="827.7" cy="769.8" r="5.4" fill="#6e7ea1"/>
<circle cx="971.3" cy="773.9" r="5.4" fill="#6c7ea2"/>
<circle cx="812.1" cy="771.1" r="5.4" fill="#6d7ea1"/>
<circle cx="708.2" cy="772.1" r="5.4" fill="#5e84ab"/>
<circle cx="985.0" cy="773.9" r="5.4" fill="#6b7fa3"/>
<circle cx="776.0" cy="768.8" r="5.4" fill="#707d9f"/>
<circle cx="788.4" cy="769.4" r="5.4" fill="#6183a9"/>
<circle cx="784.9" cy="772.7" r="5.4" fill="#6183a9"/>
<circle cx="767.6" cy="771.8" r="5.4" fill="#6880a5"/>
<circle cx="703.1" cy="771.6" r="5.4" fill="#6980a4"/>
<circle cx="299.1" cy="520.4" r="5.4" fill="#6283a8"/>
<circle cx="304.3" cy="520.4" r="5.4" fill="#6283a8"/>
<circle cx="312.7" cy="518.0" r="5.4" fill="#6283a8"/>
<circle cx="320.1" cy="517.2" r="5.4" fill="#6283a8"/>
<circle cx="320.1" cy="523.5" r="5.4" fill="#6283a8"/>
<circle cx="324.0" cy="523.5" r="5.4" fill="#6283a8"/>
<circle cx="328.5" cy="523.5" r="5.4" fill="#6283a8"/>
<circle cx="340.0" cy="523.5" r="5.4" fill="#6283a8"/>
<circle cx="343.2" cy="523.5" r="5.4" fill="#6283a8"/>
<circle cx="354.1" cy="518.7" r="5.4" fill="#6283a8"/>
<circle cx="369.9" cy="521.0" r="5.4" fill="#6283a8"/>
<circle cx="383.1" cy="524.2" r="5.4" fill="#6283a8"/>
<circle cx="392.5" cy="524.2" r="5.4" fill="#6283a8"/>
<circle cx="406.2" cy="523.5" r="5.4" fill="#6283a8"/>
<circle cx="410.4" cy="521.4" r="5.4" fill="#6283a8"/>
<circle cx="461.4" cy="521.4" r="5.4" fill="#6283a8"/>
<circle cx="503.8" cy="519.9" r="5.4" fill="#6283a8"/>
<circle cx="509.0" cy="519.9" r="5.4" fill="#6283a8"/>
<circle cx="515.0" cy="520.2" r="5.4" fill="#6283a8"/>
<circle cx="520.0" cy="519.5" r="5.4" fill="#6283a8"/>
<circle cx="525.9" cy="518.5" r="5.4" fill="#6283a8"/>
<circle cx="533.2" cy="517.9" r="5.4" fill="#6283a8"/>
<circle cx="539.5" cy="521.4" r="5.4" fill="#6283a8"/>
<circle cx="334.2" cy="541.0" r="5.4" fill="#6283a8"/>
<circle cx="334.2" cy="601.9" r="5.4" fill="#6283a8"/>
<circle cx="374.1" cy="618.7" r="5.4" fill="#6283a8"/>
<circle cx="292.8" cy="638.0" r="5.4" fill="#6283a8"/>
<circle cx="491.2" cy="601.9" r="5.4" fill="#6283a8"/>
<circle cx="584.3" cy="515.8" r="5.4" fill="#6283a8"/>
<circle cx="596.1" cy="515.8" r="5.4" fill="#6283a8"/>
<circle cx="619.2" cy="508.8" r="5.4" fill="#6283a8"/>
<circle cx="625.5" cy="510.9" r="5.4" fill="#6283a8"/>
<circle cx="647.5" cy="504.6" r="5.4" fill="#6283a8"/>
<circle cx="665.4" cy="499.0" r="5.4" fill="#6283a8"/>
<circle cx="691.0" cy="493.5" r="5.4" fill="#6283a8"/>
<circle cx="700.4" cy="491.0" r="5.4" fill="#6283a8"/>
<circle cx="719.3" cy="490.6" r="5.4" fill="#6283a8"/>
<circle cx="722.9" cy="490.6" r="5.4" fill="#6283a8"/>
<circle cx="759.2" cy="488.5" r="5.4" fill="#6283a8"/>
<circle cx="763.0" cy="488.3" r="5.4" fill="#6283a8"/>
<circle cx="767.6" cy="487.9" r="5.4" fill="#6283a8"/>
<circle cx="783.0" cy="490.6" r="5.4" fill="#6283a8"/>
<circle cx="795.0" cy="490.4" r="5.4" fill="#6283a8"/>
<circle cx="810.7" cy="490.4" r="5.4" fill="#6283a8"/>
<circle cx="813.8" cy="490.0" r="5.4" fill="#6283a8"/>
<circle cx="822.2" cy="489.3" r="5.4" fill="#6283a8"/>
<circle cx="827.5" cy="488.9" r="5.4" fill="#6283a8"/>
<circle cx="815.5" cy="532.6" r="5.4" fill="#6283a8"/>
<circle cx="725.0" cy="583.4" r="5.4" fill="#6283a8"/>
<circle cx="851.6" cy="613.8" r="5.4" fill="#6283a8"/>
<circle cx="857.9" cy="614.9" r="5.4" fill="#6283a8"/>
<circle cx="859.4" cy="622.2" r="5.4" fill="#6283a8"/>
<circle cx="716.6" cy="660.0" r="5.4" fill="#6283a8"/>
<circle cx="821.2" cy="660.6" r="5.4" fill="#6283a8"/>
<circle cx="836.3" cy="657.4" r="5.4" fill="#6283a8"/>
<circle cx="631.1" cy="687.2" r="5.4" fill="#6283a8"/>
<circle cx="625.9" cy="703.0" r="5.4" fill="#6283a8"/>
<circle cx="160.1" cy="711.4" r="5.4" fill="#6283a8"/>
<circle cx="294.9" cy="711.4" r="5.4" fill="#6283a8"/>
<circle cx="299.1" cy="711.4" r="5.4" fill="#6283a8"/>
<circle cx="369.0" cy="709.3" r="5.4" fill="#6283a8"/>
<circle cx="848.5" cy="704.0" r="5.4" fill="#6283a8"/>
<circle cx="867.4" cy="701.0" r="5.4" fill="#6283a8"/>
<circle cx="872.0" cy="701.5" r="5.4" fill="#6283a8"/>
<circle cx="876.0" cy="702.0" r="5.4" fill="#6283a8"/>
<circle cx="880.0" cy="702.0" r="5.4" fill="#6283a8"/>
<circle cx="890.1" cy="700.9" r="5.4" fill="#6283a8"/>
<circle cx="904.2" cy="700.9" r="5.4" fill="#6283a8"/>
<circle cx="911.5" cy="706.1" r="5.4" fill="#6283a8"/>
<circle cx="917.8" cy="706.1" r="5.4" fill="#6283a8"/>
<circle cx="916.7" cy="711.4" r="5.4" fill="#6283a8"/>
<circle cx="866.8" cy="738.2" r="5.4" fill="#6283a8"/>
<circle cx="866.8" cy="742.6" r="5.4" fill="#6283a8"/>
<circle cx="891.0" cy="737.0" r="5.4" fill="#6283a8"/>
<circle cx="896.5" cy="738.7" r="5.4" fill="#6283a8"/>
<circle cx="902.0" cy="738.2" r="5.4" fill="#6283a8"/>
<circle cx="937.8" cy="739.6" r="5.4" fill="#6283a8"/>
<circle cx="973.0" cy="713.1" r="5.4" fill="#6283a8"/>
<circle cx="968.6" cy="727.7" r="5.4" fill="#6283a8"/>
<circle cx="975.7" cy="736.5" r="5.4" fill="#6283a8"/>
<circle cx="934.6" cy="759.7" r="5.4" fill="#6283a8"/>
<circle cx="938.8" cy="758.6" r="5.4" fill="#6283a8"/>
<circle cx="931.7" cy="761.8" r="5.4" fill="#6283a8"/>
<circle cx="235.8" cy="767.0" r="5.4" fill="#6283a8"/>
<circle cx="562.6" cy="729.2" r="5.4" fill="#6582a7"/>
<circle cx="309.6" cy="725.0" r="5.4" fill="#757b9c"/>
<circle cx="334.8" cy="725.7" r="5.4" fill="#757b9c"/>
<circle cx="339.0" cy="725.7" r="5.4" fill="#757b9c"/>
<circle cx="294.5" cy="736.6" r="5.4" fill="#757b9c"/>
<circle cx="497.5" cy="724.0" r="5.4" fill="#757b9c"/>
<circle cx="503.8" cy="724.0" r="5.4" fill="#757b9c"/>
<circle cx="618.5" cy="745.0" r="5.4" fill="#7a7898"/>
<circle cx="612.2" cy="721.5" r="5.4" fill="#8a708c"/>
<circle cx="626.5" cy="727.1" r="5.4" fill="#8a708c"/>
<circle cx="552.1" cy="727.1" r="5.4" fill="#8f6e88"/>
<circle cx="883.9" cy="758.5" r="5.4" fill="#926c85"/>
<circle cx="376.4" cy="753.4" r="5.4" fill="#a06479"/>
<circle cx="494.4" cy="752.3" r="5.4" fill="#a06479"/>
<circle cx="920.7" cy="756.9" r="5.4" fill="#ad5b6c"/>
<circle cx="890.8" cy="753.0" r="5.4" fill="#af596a"/>
<circle cx="900.4" cy="755.0" r="5.4" fill="#af596a"/>
<circle cx="907.5" cy="756.3" r="5.4" fill="#af596a"/>
<circle cx="862.2" cy="751.0" r="5.4" fill="#b95260"/>
<circle cx="309.6" cy="746.7" r="5.4" fill="#bc505e"/>
<circle cx="313.0" cy="746.7" r="5.4" fill="#bc505e"/>
<circle cx="316.5" cy="746.7" r="5.4" fill="#bc505e"/>
<circle cx="320.0" cy="746.7" r="5.4" fill="#bc505e"/>
<circle cx="323.5" cy="746.7" r="5.4" fill="#bc505e"/>
<circle cx="327.0" cy="746.7" r="5.4" fill="#bc505e"/>
<circle cx="330.5" cy="746.7" r="5.4" fill="#bc505e"/>
<circle cx="334.0" cy="746.7" r="5.4" fill="#bc505e"/>
<circle cx="337.5" cy="746.7" r="5.4" fill="#bc505e"/>
<circle cx="341.0" cy="746.7" r="5.4" fill="#bc505e"/>
<circle cx="344.5" cy="746.7" r="5.4" fill="#bc505e"/>
<circle cx="348.4" cy="746.7" r="5.4" fill="#bc505e"/>
<circle cx="359.0" cy="746.7" r="5.4" fill="#bc505e"/>
<circle cx="378.3" cy="746.7" r="5.4" fill="#bc505e"/>
<circle cx="397.4" cy="746.7" r="5.4" fill="#bc505e"/>
<circle cx="438.1" cy="746.7" r="5.4" fill="#bc505e"/>
<circle cx="470.2" cy="746.7" r="5.4" fill="#bc505e"/>
<circle cx="479.7" cy="746.7" r="5.4" fill="#bc505e"/>
<circle cx="484.0" cy="746.7" r="5.4" fill="#bc505e"/>
<circle cx="489.0" cy="746.7" r="5.4" fill="#bc505e"/>
<circle cx="494.4" cy="746.7" r="5.4" fill="#bc505e"/>
<circle cx="503.4" cy="745.5" r="5.4" fill="#d13d48"/>
<circle cx="536.4" cy="736.6" r="5.4" fill="#db333e"/>
<circle cx="540.0" cy="735.8" r="5.4" fill="#db333e"/>
<circle cx="544.8" cy="736.6" r="5.4" fill="#db333e"/>
<circle cx="559.5" cy="733.4" r="5.4" fill="#db333e"/>
<circle cx="563.7" cy="735.5" r="5.4" fill="#db333e"/>
<circle cx="622.1" cy="744.0" r="5.4" fill="#db333e"/>
<circle cx="842.0" cy="749.2" r="5.4" fill="#db333e"/>
<circle cx="838.2" cy="753.6" r="5.4" fill="#db333e"/>
<circle cx="594.0" cy="733.4" r="5.4" fill="#dd313b"/>
<circle cx="609.1" cy="733.4" r="5.4" fill="#dd313b"/>
<circle cx="610.1" cy="737.6" r="5.4" fill="#dd313b"/>
<circle cx="615.4" cy="742.9" r="5.4" fill="#dd313b"/>
<circle cx="740.3" cy="753.4" r="5.4" fill="#dd313b"/>
<circle cx="755.3" cy="753.4" r="5.4" fill="#dd313b"/>
<circle cx="759.0" cy="753.4" r="5.4" fill="#dd313b"/>
<circle cx="763.0" cy="753.4" r="5.4" fill="#dd313b"/>
<circle cx="767.0" cy="753.4" r="5.4" fill="#dd313b"/>
<circle cx="771.0" cy="753.4" r="5.4" fill="#dd313b"/>
<circle cx="774.4" cy="753.4" r="5.4" fill="#dd313b"/>
<circle cx="778.8" cy="753.4" r="5.4" fill="#dd313b"/>
<circle cx="781.3" cy="753.4" r="5.4" fill="#dd313b"/>
<circle cx="791.8" cy="753.4" r="5.4" fill="#dd313b"/>
<circle cx="806.5" cy="753.4" r="5.4" fill="#dd313b"/>
<circle cx="810.0" cy="753.4" r="5.4" fill="#dd313b"/>
<circle cx="813.5" cy="753.4" r="5.4" fill="#dd313b"/>
<circle cx="817.0" cy="753.4" r="5.4" fill="#dd313b"/>
<circle cx="753.0" cy="749.2" r="5.4" fill="#dd313b"/>
<circle cx="770.8" cy="749.2" r="5.4" fill="#dd313b"/>
<circle cx="790.7" cy="749.2" r="5.4" fill="#dd313b"/>
<circle cx="638.5" cy="744.0" r="5.4" fill="#df2e39"/>
<circle cx="643.7" cy="742.9" r="5.4" fill="#df2e39"/>
<circle cx="684.1" cy="750.9" r="5.4" fill="#df2e39"/>
<circle cx="837.7" cy="741.5" r="5.4" fill="#e8212f"/>
<circle cx="840.4" cy="742.6" r="5.4" fill="#e8212f"/>
<path d="M823.6 731.8L834.9 743.1L823.6 754.4L812.3 743.1Z" fill="#b620fd"/>
<rect x="154.0" y="25.2" width="833.70" height="373.50" fill="none" stroke="#333" stroke-width="2.5"/>
<rect x="154.0" y="423.2" width="833.70" height="374.00" fill="none" stroke="#333" stroke-width="2.6"/>
<line x1="141.8" y1="382.70" x2="154.0" y2="382.70" stroke="#7a7a7a" stroke-width="1.6"/>
<text x="133" y="394.30" font-size="31" text-anchor="end" fill="#000">0</text>
<line x1="141.8" y1="261.15" x2="154.0" y2="261.15" stroke="#7a7a7a" stroke-width="1.6"/>
<text x="133" y="272.75" font-size="31" text-anchor="end" fill="#000">10000</text>
<line x1="141.8" y1="139.60" x2="154.0" y2="139.60" stroke="#7a7a7a" stroke-width="1.6"/>
<text x="133" y="151.20" font-size="31" text-anchor="end" fill="#000">20000</text>
<line x1="141.8" y1="780.00" x2="154.0" y2="780.00" stroke="#7a7a7a" stroke-width="1.6"/>
<text x="133" y="790.70" font-size="31" text-anchor="end" fill="#000">0</text>
<line x1="141.8" y1="675.00" x2="154.0" y2="675.00" stroke="#7a7a7a" stroke-width="1.6"/>
<text x="133" y="685.70" font-size="31" text-anchor="end" fill="#000">20</text>
<line x1="141.8" y1="570.00" x2="154.0" y2="570.00" stroke="#7a7a7a" stroke-width="1.6"/>
<text x="133" y="580.70" font-size="31" text-anchor="end" fill="#000">40</text>
<line x1="141.8" y1="465.00" x2="154.0" y2="465.00" stroke="#7a7a7a" stroke-width="1.6"/>
<text x="133" y="475.70" font-size="31" text-anchor="end" fill="#000">60</text>
<line x1="281.80" y1="797.2" x2="281.80" y2="808" stroke="#7a7a7a" stroke-width="1.6"/>
<text x="281.80" y="839.6" font-size="31.4" text-anchor="middle" fill="#000">234.50</text>
<line x1="442.30" y1="797.2" x2="442.30" y2="808" stroke="#7a7a7a" stroke-width="1.6"/>
<text x="442.30" y="839.6" font-size="31.4" text-anchor="middle" fill="#000">234.55</text>
<line x1="602.80" y1="797.2" x2="602.80" y2="808" stroke="#7a7a7a" stroke-width="1.6"/>
<text x="602.80" y="839.6" font-size="31.4" text-anchor="middle" fill="#000">234.60</text>
<line x1="763.30" y1="797.2" x2="763.30" y2="808" stroke="#7a7a7a" stroke-width="1.6"/>
<text x="763.30" y="839.6" font-size="31.4" text-anchor="middle" fill="#000">234.65</text>
<line x1="923.80" y1="797.2" x2="923.80" y2="808" stroke="#7a7a7a" stroke-width="1.6"/>
<text x="923.80" y="839.6" font-size="31.4" text-anchor="middle" fill="#000">234.70</text>
<text x="185.5" y="73.2" font-size="44.6" fill="#000">Adult</text>
<text x="182.2" y="471.4" font-size="44.6" fill="#000">Neonatal</text>
<text x="1.3" y="59.7" font-size="56" font-weight="bold" fill="#000">A</text>
<text x="571" y="883.5" font-size="40" text-anchor="middle" fill="#000">Position, Mbp</text>
<text transform="translate(34.7 412) rotate(-90)" font-size="40" text-anchor="middle" fill="#000">−<tspan dx="5">log</tspan><tspan font-size="26" dy="8">10</tspan><tspan dy="-8"> p</tspan></text>
<defs><linearGradient id="cb" x1="0" y1="0" x2="0" y2="1"><stop offset="0.00" stop-color="#e8212f"/><stop offset="0.10" stop-color="#dd313b"/><stop offset="0.20" stop-color="#d13d48"/><stop offset="0.30" stop-color="#c64854"/><stop offset="0.40" stop-color="#b95260"/><stop offset="0.50" stop-color="#ad5b6c"/><stop offset="0.60" stop-color="#a06479"/><stop offset="0.70" stop-color="#926c85"/><stop offset="0.80" stop-color="#837492"/><stop offset="0.90" stop-color="#727c9e"/><stop offset="1.00" stop-color="#5e84ab"/></linearGradient></defs>
<rect x="1054" y="321.3" width="45.3" height="225" fill="url(#cb)"/>
<line x1="1054" y1="490.05" x2="1063" y2="490.05" stroke="#f6f6f6" stroke-width="1.6"/>
<line x1="1090.3" y1="490.05" x2="1099.3" y2="490.05" stroke="#f6f6f6" stroke-width="1.6"/>
<line x1="1054" y1="433.80" x2="1063" y2="433.80" stroke="#f6f6f6" stroke-width="1.6"/>
<line x1="1090.3" y1="433.80" x2="1099.3" y2="433.80" stroke="#f6f6f6" stroke-width="1.6"/>
<line x1="1054" y1="377.55" x2="1063" y2="377.55" stroke="#f6f6f6" stroke-width="1.6"/>
<line x1="1090.3" y1="377.55" x2="1099.3" y2="377.55" stroke="#f6f6f6" stroke-width="1.6"/>
<line x1="1054" y1="321.50" x2="1063" y2="321.50" stroke="#f6f6f6" stroke-width="1.6"/>
<line x1="1090.3" y1="321.50" x2="1099.3" y2="321.50" stroke="#f6f6f6" stroke-width="1.6"/>
<text x="1111" y="329.40" font-size="23.8" fill="#000">1.00</text>
<text x="1111" y="385.65" font-size="23.8" fill="#000">0.75</text>
<text x="1111" y="441.90" font-size="23.8" fill="#000">0.50</text>
<text x="1111" y="498.15" font-size="23.8" fill="#000">0.25</text>
<text x="1053" y="303.8" font-size="23.5" fill="#000">R</text>
<text x="1071.5" y="292.6" font-size="16" fill="#000">2</text>
<line x1="1202.6" y1="2.3" x2="1202.6" y2="905.4" stroke="#d6d6d6" stroke-width="1.3"/>
<line x1="1325.1" y1="21.2" x2="1325.1" y2="747.5" stroke="#1a1a1a" stroke-width="2.2"/>
<line x1="1315" y1="746.5" x2="1996.7" y2="746.5" stroke="#1a1a1a" stroke-width="2.2"/>
<line x1="1315" y1="746.50" x2="1325.1" y2="746.50" stroke="#1a1a1a" stroke-width="2.2"/>
<text x="1308.5" y="757.80" font-size="35.5" text-anchor="end" fill="#000">0</text>
<line x1="1315" y1="565.50" x2="1325.1" y2="565.50" stroke="#1a1a1a" stroke-width="2.2"/>
<text x="1308.5" y="576.80" font-size="35.5" text-anchor="end" fill="#000">3</text>
<line x1="1315" y1="384.50" x2="1325.1" y2="384.50" stroke="#1a1a1a" stroke-width="2.2"/>
<text x="1308.5" y="395.80" font-size="35.5" text-anchor="end" fill="#000">6</text>
<line x1="1315" y1="203.50" x2="1325.1" y2="203.50" stroke="#1a1a1a" stroke-width="2.2"/>
<text x="1308.5" y="214.80" font-size="35.5" text-anchor="end" fill="#000">9</text>
<line x1="1315" y1="22.50" x2="1325.1" y2="22.50" stroke="#1a1a1a" stroke-width="2.2"/>
<text x="1308.5" y="33.80" font-size="35.5" text-anchor="end" fill="#000">12</text>
<text x="1364.50" y="788.3" font-size="35.5" text-anchor="middle" fill="#000">1</text>
<text x="1430.17" y="788.3" font-size="35.5" text-anchor="middle" fill="#000">2</text>
<text x="1495.84" y="788.3" font-size="35.5" text-anchor="middle" fill="#000">3</text>
<text x="1561.51" y="788.3" font-size="35.5" text-anchor="middle" fill="#000">4</text>
<text x="1627.18" y="788.3" font-size="35.5" text-anchor="middle" fill="#000">5</text>
<text x="1692.85" y="788.3" font-size="35.5" text-anchor="middle" fill="#000">6</text>
<text x="1758.52" y="788.3" font-size="35.5" text-anchor="middle" fill="#000">7</text>
<text x="1824.19" y="788.3" font-size="35.5" text-anchor="middle" fill="#000">8</text>
<text x="1889.86" y="788.3" font-size="35.5" text-anchor="middle" fill="#000">9</text>
<text x="1955.53" y="788.3" font-size="35.5" text-anchor="middle" fill="#000">10</text>
<text x="1660.7" y="833.7" font-size="39.8" text-anchor="middle" fill="#000">Adult bilirubin polygenic</text>
<text x="1660.7" y="877" font-size="40" text-anchor="middle" fill="#000">score decile</text>
<text transform="translate(1249.5 384) rotate(-90)" font-size="40" text-anchor="middle" fill="#000">Jaundice prevalence, %</text>
<text x="1217.5" y="60.1" font-size="56" font-weight="bold" fill="#000">B</text>
<line x1="1356.3" y1="431.7" x2="1356.3" y2="534.1" stroke="#397bb5" stroke-width="6.3"/><circle cx="1356.3" cy="486.3" r="9.2" fill="#397bb5"/>
<line x1="1372.8" y1="325.0" x2="1372.8" y2="443.2" stroke="#d6a02b" stroke-width="6.3"/><circle cx="1372.8" cy="387.3" r="9.2" fill="#d6a02b"/>
<line x1="1421.7" y1="330.3" x2="1421.7" y2="448.2" stroke="#397bb5" stroke-width="6.3"/><circle cx="1421.7" cy="392.7" r="9.2" fill="#397bb5"/>
<line x1="1438.2" y1="279.7" x2="1438.2" y2="405.0" stroke="#d6a02b" stroke-width="6.3"/><circle cx="1438.2" cy="345.8" r="9.2" fill="#d6a02b"/>
<line x1="1487.8" y1="307.8" x2="1487.8" y2="429.0" stroke="#397bb5" stroke-width="6.3"/><circle cx="1487.8" cy="371.9" r="9.2" fill="#397bb5"/>
<line x1="1504.3" y1="271.5" x2="1504.3" y2="397.6" stroke="#d6a02b" stroke-width="6.3"/><circle cx="1504.3" cy="337.9" r="9.2" fill="#d6a02b"/>
<line x1="1553.4" y1="274.1" x2="1553.4" y2="400.3" stroke="#397bb5" stroke-width="6.3"/><circle cx="1553.4" cy="340.5" r="9.2" fill="#397bb5"/>
<line x1="1569.9" y1="271.5" x2="1569.9" y2="397.6" stroke="#d6a02b" stroke-width="6.3"/><circle cx="1569.9" cy="337.9" r="9.2" fill="#d6a02b"/>
<line x1="1619.0" y1="274.1" x2="1619.0" y2="400.3" stroke="#397bb5" stroke-width="6.3"/><circle cx="1619.0" cy="340.5" r="9.2" fill="#397bb5"/>
<line x1="1635.5" y1="296.9" x2="1635.5" y2="419.4" stroke="#d6a02b" stroke-width="6.3"/><circle cx="1635.5" cy="361.6" r="9.2" fill="#d6a02b"/>
<line x1="1684.7" y1="277.1" x2="1684.7" y2="402.6" stroke="#397bb5" stroke-width="6.3"/><circle cx="1684.7" cy="343.5" r="9.2" fill="#397bb5"/>
<line x1="1701.2" y1="277.1" x2="1701.2" y2="402.6" stroke="#d6a02b" stroke-width="6.3"/><circle cx="1701.2" cy="343.5" r="9.2" fill="#d6a02b"/>
<line x1="1750.3" y1="254.8" x2="1750.3" y2="383.3" stroke="#397bb5" stroke-width="6.3"/><circle cx="1750.3" cy="322.2" r="9.2" fill="#397bb5"/>
<line x1="1766.8" y1="263.1" x2="1766.8" y2="390.3" stroke="#d6a02b" stroke-width="6.3"/><circle cx="1766.8" cy="330.1" r="9.2" fill="#d6a02b"/>
<line x1="1816.0" y1="263.1" x2="1816.0" y2="390.3" stroke="#397bb5" stroke-width="6.3"/><circle cx="1816.0" cy="330.1" r="9.2" fill="#397bb5"/>
<line x1="1832.5" y1="257.4" x2="1832.5" y2="385.6" stroke="#d6a02b" stroke-width="6.3"/><circle cx="1832.5" cy="324.8" r="9.2" fill="#d6a02b"/>
<line x1="1881.7" y1="163.0" x2="1881.7" y2="302.7" stroke="#397bb5" stroke-width="6.3"/><circle cx="1881.7" cy="236.3" r="9.2" fill="#397bb5"/>
<line x1="1898.2" y1="248.9" x2="1898.2" y2="378.4" stroke="#d6a02b" stroke-width="6.3"/><circle cx="1898.2" cy="317.2" r="9.2" fill="#d6a02b"/>
<line x1="1947.6" y1="143.8" x2="1947.6" y2="285.2" stroke="#397bb5" stroke-width="6.3"/><circle cx="1947.6" cy="218.1" r="9.2" fill="#397bb5"/>
<line x1="1964.1" y1="226.7" x2="1964.1" y2="358.9" stroke="#d6a02b" stroke-width="6.3"/><circle cx="1964.1" cy="296.1" r="9.2" fill="#d6a02b"/>
<line x1="1413.9" y1="645.0" x2="1413.9" y2="679.4" stroke="#397bb5" stroke-width="6.3"/><circle cx="1413.9" cy="662.2" r="9.2" fill="#397bb5"/>
<line x1="1413.9" y1="688.6" x2="1413.9" y2="723.1" stroke="#d6a02b" stroke-width="6.3"/><circle cx="1413.9" cy="705.6" r="9.2" fill="#d6a02b"/>
<text x="1453.5" y="673.7" font-size="34" fill="#000">Full</text>
<text x="1453.5" y="715.1" font-size="34" fill="#000">Excluding <tspan font-style="italic">UGT1A*</tspan> region</text>
</svg>
</body></html>
